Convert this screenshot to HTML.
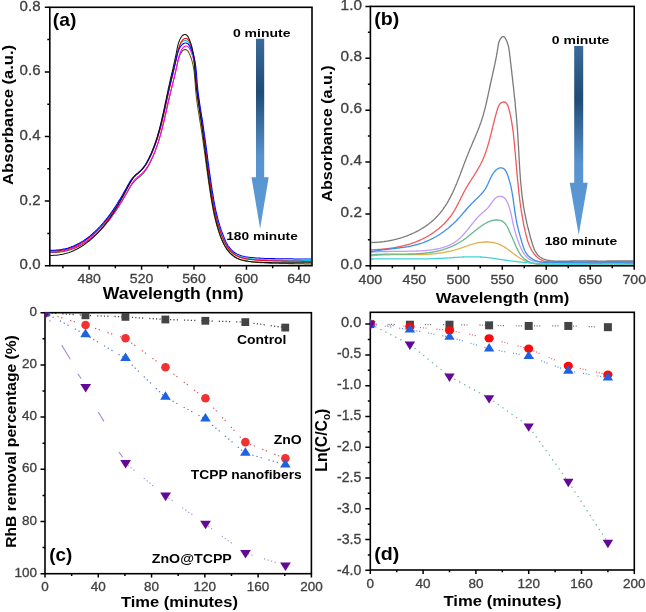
<!DOCTYPE html><html><head><meta charset="utf-8"><style>html,body{margin:0;padding:0;background:#fff;}svg{display:block;filter:blur(0.65px)}</style></head><body>
<svg width="646" height="612" viewBox="0 0 646 612">
<rect width="646" height="612" fill="#fff"/>
<defs>
<linearGradient id="ga" gradientUnits="userSpaceOnUse" x1="0" y1="38.7" x2="0" y2="228.8"><stop offset="0" stop-color="#3b6b9a"/><stop offset="0.28" stop-color="#1f4b74"/><stop offset="0.62" stop-color="#5893cf"/><stop offset="1" stop-color="#5b9bd5"/></linearGradient>
<linearGradient id="gb" gradientUnits="userSpaceOnUse" x1="0" y1="46" x2="0" y2="234.9"><stop offset="0" stop-color="#3b6b9a"/><stop offset="0.28" stop-color="#1f4b74"/><stop offset="0.62" stop-color="#5893cf"/><stop offset="1" stop-color="#5b9bd5"/></linearGradient>
<clipPath id="clipc"><rect x="45" y="312.7" width="266.4" height="261"/></clipPath><clipPath id="clipd"><rect x="370.3" y="312.3" width="264" height="257.7"/></clipPath>
</defs>
<path d="M50.2,252.5 L51.3,252.5 L52.4,252.5 L53.4,252.5 L54.5,252.5 L55.5,252.5 L56.5,252.4 L57.6,252.3 L58.6,252.2 L59.6,252.1 L60.6,252.0 L61.6,251.8 L62.6,251.7 L63.6,251.5 L64.6,251.3 L65.6,251.1 L66.5,250.9 L67.5,250.6 L68.5,250.3 L69.4,250.1 L70.3,249.8 L71.3,249.5 L72.2,249.1 L73.1,248.8 L74.1,248.4 L75.0,248.1 L75.9,247.7 L76.8,247.3 L77.6,246.9 L78.5,246.4 L79.4,246.0 L80.3,245.5 L81.1,245.1 L82.0,244.6 L82.9,244.1 L83.7,243.6 L84.5,243.1 L85.4,242.6 L86.2,242.0 L87.0,241.5 L87.8,240.9 L88.6,240.4 L89.4,239.8 L90.2,239.2 L91.0,238.6 L91.8,238.0 L92.6,237.4 L93.3,236.8 L94.1,236.1 L94.8,235.5 L95.6,234.8 L96.3,234.2 L97.0,233.5 L97.8,232.8 L98.5,232.1 L99.2,231.4 L99.9,230.7 L100.6,230.0 L101.2,229.3 L101.9,228.6 L102.6,227.9 L103.3,227.2 L103.9,226.4 L104.6,225.7 L105.2,224.9 L105.9,224.2 L106.5,223.4 L107.1,222.7 L107.7,221.9 L108.4,221.1 L109.0,220.3 L109.6,219.6 L110.2,218.8 L110.8,218.0 L111.3,217.2 L111.9,216.4 L112.5,215.6 L113.1,214.8 L113.6,214.1 L114.2,213.3 L114.7,212.4 L115.3,211.6 L115.8,210.8 L116.4,210.0 L116.9,209.2 L117.4,208.4 L118.0,207.6 L118.5,206.8 L119.0,206.0 L119.5,205.1 L120.0,204.3 L120.6,203.5 L121.1,202.7 L121.6,201.8 L122.1,201.0 L122.6,200.2 L123.1,199.3 L123.6,198.5 L124.1,197.7 L124.5,196.8 L125.0,196.0 L125.5,195.1 L126.0,194.3 L126.5,193.4 L127.0,192.6 L127.5,191.7 L128.0,190.9 L128.5,190.0 L128.9,189.2 L129.4,188.3 L129.9,187.5 L130.4,186.6 L130.9,185.8 L131.5,185.0 L132.0,184.2 L132.6,183.4 L133.2,182.6 L133.8,181.9 L134.5,181.2 L135.2,180.5 L135.9,179.8 L136.6,179.2 L137.4,178.6 L138.2,177.9 L139.0,177.3 L139.7,176.7 L140.5,176.1 L141.2,175.4 L141.9,174.7 L142.6,174.0 L143.3,173.3 L143.9,172.6 L144.5,171.8 L145.1,171.0 L145.7,170.3 L146.2,169.4 L146.8,168.6 L147.3,167.8 L147.8,167.0 L148.3,166.1 L148.7,165.3 L149.2,164.4 L149.7,163.5 L150.1,162.7 L150.5,161.8 L151.0,160.9 L151.4,160.0 L151.8,159.1 L152.2,158.2 L152.6,157.4 L153.0,156.5 L153.4,155.6 L153.7,154.7 L154.1,153.8 L154.5,152.9 L154.8,152.0 L155.2,151.1 L155.5,150.2 L155.9,149.2 L156.2,148.3 L156.5,147.4 L156.8,146.5 L157.2,145.6 L157.5,144.7 L157.8,143.7 L158.1,142.8 L158.4,141.9 L158.6,141.0 L158.9,140.0 L159.2,139.1 L159.5,138.2 L159.8,137.2 L160.0,136.3 L160.3,135.4 L160.6,134.4 L160.8,133.5 L161.1,132.5 L161.3,131.6 L161.6,130.7 L161.8,129.7 L162.0,128.8 L162.3,127.8 L162.5,126.9 L162.7,125.9 L163.0,125.0 L163.2,124.0 L163.4,123.1 L163.7,122.1 L163.9,121.2 L164.1,120.2 L164.3,119.3 L164.5,118.3 L164.8,117.4 L165.0,116.4 L165.2,115.5 L165.4,114.5 L165.6,113.6 L165.8,112.6 L166.0,111.7 L166.3,110.7 L166.5,109.7 L166.7,108.8 L166.9,107.8 L167.1,106.9 L167.3,105.9 L167.5,105.0 L167.8,104.0 L168.0,103.1 L168.2,102.1 L168.4,101.2 L168.6,100.2 L168.8,99.3 L169.1,98.3 L169.3,97.4 L169.5,96.4 L169.8,95.5 L170.0,94.6 L170.2,93.6 L170.4,92.7 L170.7,91.7 L170.9,90.8 L171.1,89.8 L171.4,88.9 L171.6,88.0 L171.8,87.0 L172.1,86.1 L172.3,85.1 L172.6,84.2 L172.8,83.2 L173.0,82.3 L173.3,81.3 L173.5,80.4 L173.7,79.5 L173.9,78.5 L174.2,77.6 L174.4,76.6 L174.6,75.7 L174.9,74.7 L175.1,73.8 L175.3,72.8 L175.5,71.9 L175.7,70.9 L175.9,70.0 L176.2,69.0 L176.4,68.1 L176.6,67.1 L176.8,66.2 L177.0,65.2 L177.2,64.3 L177.4,63.3 L177.6,62.4 L177.8,61.4 L178.0,60.4 L178.3,59.5 L178.6,58.5 L178.9,57.5 L179.3,56.5 L179.6,55.5 L180.1,54.6 L180.6,53.6 L181.1,52.7 L181.6,51.9 L182.2,51.1 L182.9,50.5 L183.5,50.1 L184.2,49.8 L184.9,49.6 L185.6,49.6 L186.3,49.8 L186.9,50.2 L187.5,50.7 L188.1,51.3 L188.6,52.1 L189.0,53.0 L189.4,53.9 L189.9,54.8 L190.2,55.7 L190.6,56.7 L190.9,57.6 L191.3,58.5 L191.6,59.5 L191.9,60.4 L192.1,61.4 L192.4,62.3 L192.6,63.3 L192.8,64.2 L193.1,65.2 L193.2,66.2 L193.4,67.1 L193.6,68.1 L193.7,69.1 L193.9,70.0 L194.0,71.0 L194.2,72.0 L194.3,72.9 L194.4,73.9 L194.5,74.9 L194.6,75.9 L194.7,76.9 L194.7,77.8 L194.8,78.8 L194.9,79.8 L195.0,80.8 L195.0,81.8 L195.1,82.7 L195.2,83.7 L195.3,84.7 L195.3,85.7 L195.4,86.7 L195.5,87.6 L195.5,88.6 L195.6,89.6 L195.7,90.6 L195.8,91.6 L195.9,92.5 L196.0,93.5 L196.1,94.5 L196.2,95.5 L196.3,96.4 L196.4,97.4 L196.6,98.4 L196.7,99.3 L196.8,100.3 L196.9,101.3 L197.1,102.2 L197.2,103.2 L197.3,104.2 L197.5,105.1 L197.6,106.1 L197.8,107.1 L197.9,108.0 L198.0,109.0 L198.2,110.0 L198.3,110.9 L198.5,111.9 L198.6,112.9 L198.8,113.8 L199.0,114.8 L199.1,115.7 L199.3,116.7 L199.4,117.7 L199.6,118.6 L199.7,119.6 L199.9,120.6 L200.0,121.5 L200.2,122.5 L200.4,123.5 L200.5,124.4 L200.7,125.4 L200.8,126.4 L201.0,127.3 L201.1,128.3 L201.3,129.3 L201.4,130.2 L201.6,131.2 L201.7,132.2 L201.9,133.1 L202.0,134.1 L202.1,135.1 L202.3,136.0 L202.4,137.0 L202.6,138.0 L202.7,138.9 L202.8,139.9 L203.0,140.9 L203.1,141.8 L203.3,142.8 L203.4,143.8 L203.5,144.8 L203.7,145.7 L203.8,146.7 L203.9,147.7 L204.1,148.6 L204.2,149.6 L204.3,150.6 L204.5,151.6 L204.6,152.5 L204.7,153.5 L204.9,154.5 L205.0,155.4 L205.1,156.4 L205.3,157.4 L205.4,158.4 L205.5,159.3 L205.7,160.3 L205.8,161.3 L205.9,162.3 L206.0,163.2 L206.2,164.2 L206.3,165.2 L206.4,166.1 L206.6,167.1 L206.7,168.1 L206.8,169.1 L207.0,170.0 L207.1,171.0 L207.2,172.0 L207.4,172.9 L207.5,173.9 L207.6,174.9 L207.8,175.8 L207.9,176.8 L208.0,177.8 L208.2,178.8 L208.3,179.7 L208.5,180.7 L208.6,181.7 L208.7,182.6 L208.9,183.6 L209.0,184.6 L209.2,185.5 L209.3,186.5 L209.4,187.5 L209.6,188.4 L209.7,189.4 L209.9,190.4 L210.0,191.3 L210.2,192.3 L210.3,193.3 L210.5,194.2 L210.6,195.2 L210.8,196.1 L210.9,197.1 L211.1,198.1 L211.2,199.0 L211.4,200.0 L211.6,200.9 L211.7,201.9 L211.9,202.9 L212.1,203.8 L212.2,204.8 L212.4,205.7 L212.6,206.7 L212.8,207.7 L212.9,208.6 L213.1,209.6 L213.3,210.5 L213.5,211.5 L213.7,212.4 L213.9,213.4 L214.1,214.4 L214.3,215.3 L214.5,216.3 L214.8,217.2 L215.0,218.2 L215.2,219.1 L215.4,220.1 L215.7,221.0 L215.9,222.0 L216.2,222.9 L216.4,223.9 L216.7,224.8 L216.9,225.8 L217.2,226.7 L217.5,227.7 L217.8,228.6 L218.1,229.6 L218.4,230.5 L218.7,231.5 L219.0,232.4 L219.3,233.4 L219.6,234.3 L220.0,235.3 L220.3,236.2 L220.7,237.2 L221.0,238.1 L221.4,239.0 L221.8,240.0 L222.2,240.9 L222.6,241.8 L223.0,242.7 L223.5,243.6 L223.9,244.5 L224.4,245.3 L224.9,246.2 L225.4,247.0 L225.9,247.8 L226.4,248.6 L226.9,249.4 L227.5,250.2 L228.1,250.9 L228.7,251.7 L229.3,252.4 L230.0,253.1 L230.6,253.7 L231.3,254.4 L232.0,255.0 L232.7,255.6 L233.5,256.2 L234.3,256.7 L235.1,257.2 L235.9,257.7 L236.7,258.2 L237.6,258.6 L238.5,259.0 L239.4,259.3 L240.4,259.7 L241.3,260.0 L242.3,260.3 L243.3,260.5 L244.3,260.7 L245.4,261.0 L246.4,261.2 L247.4,261.3 L248.5,261.5 L249.5,261.6 L250.6,261.8 L251.7,261.9 L252.7,262.0 L253.7,262.1 L254.8,262.2 L255.8,262.3 L256.8,262.4 L257.8,262.4 L258.9,262.5 L259.8,262.6 L260.8,262.6 L261.8,262.7 L262.8,262.8 L263.8,262.8 L264.7,262.9 L265.7,262.9 L266.7,262.9 L267.6,263.0 L268.6,263.0 L269.6,263.1 L270.5,263.1 L271.5,263.1 L272.5,263.2 L273.4,263.2 L274.4,263.2 L275.4,263.3 L276.4,263.3 L277.4,263.3 L278.4,263.3 L279.4,263.4 L280.4,263.4 L281.4,263.4 L282.4,263.4 L283.4,263.5 L284.4,263.5 L285.4,263.5 L286.4,263.5 L287.4,263.5 L288.5,263.6 L289.5,263.6 L290.5,263.6 L291.5,263.6 L292.5,263.6 L293.5,263.6 L294.6,263.7 L295.6,263.7 L296.6,263.7 L297.6,263.7 L298.6,263.7 L299.6,263.8 L300.6,263.8 L301.6,263.8 L302.6,263.8 L303.6,263.8 L304.6,263.9 L305.6,263.9 L306.6,263.9 L307.5,263.9 L308.5,263.9 L309.5,264.0 L310.4,264.0 L311.4,264.0" fill="none" stroke="#555500" stroke-width="1.05" stroke-linejoin="round"/>
<path d="M50.2,251.9 L51.3,251.9 L52.4,251.9 L53.4,251.9 L54.5,251.9 L55.5,251.8 L56.6,251.7 L57.6,251.7 L58.6,251.5 L59.7,251.4 L60.7,251.3 L61.7,251.1 L62.7,251.0 L63.7,250.8 L64.7,250.5 L65.7,250.3 L66.6,250.1 L67.6,249.8 L68.6,249.5 L69.6,249.3 L70.5,248.9 L71.5,248.6 L72.4,248.3 L73.3,247.9 L74.3,247.6 L75.2,247.2 L76.1,246.8 L77.0,246.4 L77.9,246.0 L78.8,245.5 L79.7,245.1 L80.6,244.6 L81.5,244.1 L82.4,243.6 L83.3,243.1 L84.1,242.6 L85.0,242.1 L85.8,241.6 L86.7,241.0 L87.5,240.5 L88.4,239.9 L89.2,239.3 L90.0,238.7 L90.8,238.1 L91.7,237.5 L92.5,236.9 L93.3,236.3 L94.1,235.6 L94.9,235.0 L95.6,234.3 L96.4,233.6 L97.1,233.0 L97.8,232.3 L98.6,231.6 L99.3,230.9 L100.0,230.2 L100.7,229.5 L101.4,228.8 L102.0,228.0 L102.7,227.3 L103.4,226.6 L104.1,225.8 L104.7,225.1 L105.4,224.3 L106.0,223.6 L106.7,222.8 L107.3,222.0 L107.9,221.3 L108.5,220.5 L109.2,219.7 L109.8,218.9 L110.4,218.1 L111.0,217.3 L111.6,216.5 L112.1,215.7 L112.7,214.9 L113.3,214.1 L113.9,213.3 L114.4,212.5 L115.0,211.7 L115.5,210.9 L116.1,210.1 L116.6,209.3 L117.2,208.4 L117.7,207.6 L118.2,206.8 L118.8,206.0 L119.3,205.1 L119.8,204.3 L120.3,203.5 L120.8,202.6 L121.4,201.8 L121.9,201.0 L122.4,200.1 L122.9,199.3 L123.4,198.4 L123.9,197.6 L124.4,196.7 L124.9,195.9 L125.3,195.0 L125.8,194.2 L126.3,193.3 L126.8,192.5 L127.3,191.6 L127.8,190.8 L128.3,189.9 L128.8,189.0 L129.3,188.2 L129.7,187.3 L130.2,186.4 L130.7,185.6 L131.2,184.7 L131.7,183.9 L132.3,183.0 L132.8,182.2 L133.4,181.4 L134.0,180.7 L134.6,179.9 L135.3,179.2 L136.0,178.5 L136.7,177.8 L137.4,177.1 L138.2,176.5 L139.0,175.9 L139.8,175.2 L140.5,174.6 L141.3,174.0 L142.0,173.3 L142.7,172.6 L143.4,171.9 L144.1,171.2 L144.7,170.4 L145.3,169.6 L145.9,168.9 L146.5,168.1 L147.0,167.2 L147.6,166.4 L148.1,165.6 L148.6,164.7 L149.1,163.9 L149.5,163.0 L150.0,162.1 L150.5,161.2 L150.9,160.3 L151.3,159.5 L151.8,158.6 L152.2,157.7 L152.6,156.8 L153.0,155.9 L153.4,155.0 L153.8,154.1 L154.2,153.2 L154.5,152.3 L154.9,151.4 L155.3,150.4 L155.6,149.5 L156.0,148.6 L156.3,147.7 L156.7,146.8 L157.0,145.8 L157.3,144.9 L157.6,144.0 L158.0,143.1 L158.3,142.1 L158.6,141.2 L158.9,140.3 L159.2,139.3 L159.4,138.4 L159.7,137.4 L160.0,136.5 L160.3,135.6 L160.6,134.6 L160.8,133.7 L161.1,132.7 L161.4,131.8 L161.6,130.8 L161.9,129.9 L162.1,128.9 L162.4,128.0 L162.6,127.0 L162.8,126.1 L163.1,125.1 L163.3,124.1 L163.5,123.2 L163.8,122.2 L164.0,121.3 L164.2,120.3 L164.5,119.4 L164.7,118.4 L164.9,117.4 L165.1,116.5 L165.3,115.5 L165.6,114.5 L165.8,113.6 L166.0,112.6 L166.2,111.7 L166.4,110.7 L166.6,109.7 L166.8,108.8 L167.1,107.8 L167.3,106.8 L167.5,105.9 L167.7,104.9 L167.9,104.0 L168.1,103.0 L168.3,102.0 L168.6,101.1 L168.8,100.1 L169.0,99.1 L169.2,98.2 L169.4,97.2 L169.6,96.3 L169.9,95.3 L170.1,94.4 L170.3,93.4 L170.6,92.4 L170.8,91.5 L171.0,90.5 L171.2,89.6 L171.5,88.6 L171.7,87.7 L171.9,86.7 L172.2,85.8 L172.4,84.8 L172.6,83.9 L172.9,82.9 L173.1,82.0 L173.4,81.0 L173.6,80.0 L173.8,79.1 L174.1,78.1 L174.3,77.2 L174.5,76.2 L174.7,75.3 L175.0,74.3 L175.2,73.4 L175.4,72.4 L175.7,71.5 L175.9,70.5 L176.1,69.5 L176.3,68.6 L176.5,67.6 L176.7,66.7 L177.0,65.7 L177.2,64.7 L177.4,63.8 L177.6,62.8 L177.8,61.9 L178.0,60.9 L178.2,59.9 L178.4,59.0 L178.6,58.0 L178.9,57.0 L179.1,56.0 L179.4,55.0 L179.7,54.0 L180.1,53.1 L180.5,52.0 L180.9,51.0 L181.4,50.1 L181.9,49.2 L182.5,48.3 L183.1,47.6 L183.7,47.0 L184.4,46.5 L185.1,46.2 L185.8,46.0 L186.5,46.0 L187.2,46.2 L187.8,46.6 L188.4,47.1 L189.0,47.7 L189.5,48.5 L190.0,49.4 L190.4,50.3 L190.8,51.2 L191.2,52.1 L191.6,53.1 L191.9,54.0 L192.2,55.0 L192.5,55.9 L192.8,56.9 L193.1,57.8 L193.4,58.8 L193.6,59.7 L193.8,60.7 L194.0,61.7 L194.2,62.6 L194.4,63.6 L194.6,64.6 L194.7,65.5 L194.9,66.5 L195.0,67.5 L195.1,68.5 L195.3,69.5 L195.4,70.4 L195.5,71.4 L195.6,72.4 L195.7,73.4 L195.7,74.4 L195.8,75.4 L195.9,76.4 L196.0,77.4 L196.0,78.3 L196.1,79.3 L196.2,80.3 L196.3,81.3 L196.3,82.3 L196.4,83.3 L196.5,84.3 L196.5,85.3 L196.6,86.2 L196.7,87.2 L196.8,88.2 L196.9,89.2 L197.0,90.2 L197.1,91.2 L197.2,92.1 L197.3,93.1 L197.4,94.1 L197.6,95.1 L197.7,96.0 L197.8,97.0 L197.9,98.0 L198.1,99.0 L198.2,99.9 L198.3,100.9 L198.5,101.9 L198.6,102.9 L198.8,103.8 L198.9,104.8 L199.0,105.8 L199.2,106.8 L199.3,107.7 L199.5,108.7 L199.6,109.7 L199.8,110.6 L200.0,111.6 L200.1,112.6 L200.3,113.5 L200.4,114.5 L200.6,115.5 L200.7,116.5 L200.9,117.4 L201.0,118.4 L201.2,119.4 L201.4,120.3 L201.5,121.3 L201.7,122.3 L201.8,123.3 L202.0,124.2 L202.1,125.2 L202.3,126.2 L202.4,127.2 L202.6,128.1 L202.7,129.1 L202.9,130.1 L203.0,131.0 L203.1,132.0 L203.3,133.0 L203.4,134.0 L203.6,135.0 L203.7,135.9 L203.8,136.9 L204.0,137.9 L204.1,138.9 L204.3,139.8 L204.4,140.8 L204.5,141.8 L204.7,142.8 L204.8,143.7 L204.9,144.7 L205.1,145.7 L205.2,146.7 L205.3,147.7 L205.5,148.6 L205.6,149.6 L205.7,150.6 L205.9,151.6 L206.0,152.6 L206.1,153.5 L206.3,154.5 L206.4,155.5 L206.5,156.5 L206.7,157.4 L206.8,158.4 L206.9,159.4 L207.0,160.4 L207.2,161.4 L207.3,162.3 L207.4,163.3 L207.6,164.3 L207.7,165.3 L207.8,166.3 L208.0,167.2 L208.1,168.2 L208.2,169.2 L208.4,170.2 L208.5,171.1 L208.6,172.1 L208.8,173.1 L208.9,174.1 L209.0,175.1 L209.2,176.0 L209.3,177.0 L209.5,178.0 L209.6,179.0 L209.7,179.9 L209.9,180.9 L210.0,181.9 L210.2,182.9 L210.3,183.8 L210.4,184.8 L210.6,185.8 L210.7,186.7 L210.9,187.7 L211.0,188.7 L211.2,189.7 L211.3,190.6 L211.5,191.6 L211.6,192.6 L211.8,193.5 L211.9,194.5 L212.1,195.5 L212.2,196.4 L212.4,197.4 L212.6,198.4 L212.7,199.3 L212.9,200.3 L213.1,201.3 L213.2,202.2 L213.4,203.2 L213.6,204.2 L213.8,205.1 L213.9,206.1 L214.1,207.1 L214.3,208.0 L214.5,209.0 L214.7,209.9 L214.9,210.9 L215.1,211.9 L215.3,212.8 L215.5,213.8 L215.8,214.7 L216.0,215.7 L216.2,216.7 L216.4,217.6 L216.7,218.6 L216.9,219.5 L217.2,220.5 L217.4,221.5 L217.7,222.4 L217.9,223.4 L218.2,224.3 L218.5,225.3 L218.8,226.2 L219.1,227.2 L219.4,228.2 L219.7,229.1 L220.0,230.1 L220.3,231.0 L220.6,232.0 L221.0,232.9 L221.3,233.9 L221.7,234.8 L222.0,235.8 L222.4,236.7 L222.8,237.6 L223.2,238.5 L223.5,239.5 L223.9,240.4 L224.3,241.3 L224.7,242.1 L225.1,243.0 L225.6,243.9 L226.0,244.7 L226.5,245.5 L227.0,246.3 L227.5,247.1 L228.0,247.9 L228.6,248.6 L229.1,249.4 L229.7,250.1 L230.3,250.8 L231.0,251.4 L231.6,252.1 L232.3,252.7 L233.0,253.3 L233.7,253.9 L234.5,254.4 L235.2,254.9 L236.0,255.4 L236.9,255.8 L237.7,256.2 L238.6,256.6 L239.5,257.0 L240.4,257.3 L241.4,257.6 L242.4,257.9 L243.4,258.1 L244.4,258.4 L245.4,258.6 L246.4,258.8 L247.4,258.9 L248.5,259.1 L249.5,259.2 L250.6,259.3 L251.7,259.4 L252.7,259.5 L253.7,259.6 L254.8,259.7 L255.8,259.8 L256.8,259.9 L257.8,259.9 L258.9,260.0 L259.8,260.1 L260.8,260.1 L261.8,260.2 L262.8,260.2 L263.8,260.3 L264.7,260.3 L265.7,260.3 L266.7,260.4 L267.6,260.4 L268.6,260.4 L269.6,260.5 L270.5,260.5 L271.5,260.5 L272.5,260.5 L273.4,260.6 L274.4,260.6 L275.4,260.6 L276.4,260.6 L277.4,260.6 L278.4,260.7 L279.4,260.7 L280.4,260.7 L281.4,260.7 L282.4,260.7 L283.4,260.7 L284.4,260.7 L285.4,260.7 L286.4,260.8 L287.4,260.8 L288.5,260.8 L289.5,260.8 L290.5,260.8 L291.5,260.8 L292.5,260.8 L293.5,260.8 L294.6,260.8 L295.6,260.8 L296.6,260.8 L297.6,260.9 L298.6,260.9 L299.6,260.9 L300.6,260.9 L301.6,260.9 L302.6,260.9 L303.6,260.9 L304.6,260.9 L305.6,260.9 L306.6,260.9 L307.5,261.0 L308.5,261.0 L309.5,261.0 L310.4,261.0 L311.4,261.0" fill="none" stroke="#ff00ff" stroke-width="1.05" stroke-linejoin="round"/>
<path d="M50.2,250.6 L51.3,250.7 L52.4,250.7 L53.4,250.7 L54.5,250.7 L55.5,250.6 L56.5,250.5 L57.6,250.5 L58.6,250.3 L59.6,250.2 L60.6,250.1 L61.6,249.9 L62.6,249.7 L63.6,249.6 L64.5,249.3 L65.5,249.1 L66.5,248.9 L67.4,248.6 L68.4,248.3 L69.3,248.0 L70.3,247.7 L71.2,247.4 L72.1,247.0 L73.0,246.7 L73.9,246.3 L74.8,245.9 L75.7,245.5 L76.6,245.1 L77.5,244.7 L78.4,244.2 L79.2,243.8 L80.1,243.3 L81.0,242.8 L81.8,242.3 L82.6,241.8 L83.5,241.3 L84.3,240.7 L85.1,240.2 L85.9,239.6 L86.7,239.1 L87.5,238.5 L88.3,237.9 L89.1,237.3 L89.9,236.7 L90.7,236.1 L91.4,235.4 L92.2,234.8 L93.0,234.1 L93.7,233.5 L94.5,232.8 L95.2,232.1 L95.9,231.4 L96.6,230.7 L97.4,230.0 L98.1,229.3 L98.8,228.6 L99.5,227.9 L100.2,227.1 L100.8,226.4 L101.5,225.7 L102.2,224.9 L102.9,224.1 L103.5,223.4 L104.2,222.6 L104.8,221.8 L105.5,221.1 L106.1,220.3 L106.7,219.5 L107.3,218.7 L108.0,217.9 L108.6,217.1 L109.2,216.3 L109.8,215.5 L110.4,214.7 L110.9,213.8 L111.5,213.0 L112.1,212.2 L112.7,211.4 L113.2,210.6 L113.8,209.7 L114.3,208.9 L114.9,208.1 L115.4,207.2 L116.0,206.4 L116.5,205.5 L117.0,204.7 L117.6,203.9 L118.1,203.0 L118.6,202.2 L119.1,201.3 L119.6,200.5 L120.2,199.6 L120.7,198.7 L121.2,197.9 L121.7,197.0 L122.2,196.2 L122.7,195.3 L123.2,194.4 L123.7,193.6 L124.1,192.7 L124.6,191.8 L125.1,190.9 L125.6,190.1 L126.1,189.2 L126.6,188.3 L127.1,187.4 L127.6,186.6 L128.1,185.7 L128.5,184.8 L129.0,183.9 L129.5,183.0 L130.0,182.2 L130.5,181.3 L131.1,180.4 L131.6,179.6 L132.2,178.8 L132.8,178.0 L133.4,177.2 L134.1,176.5 L134.8,175.8 L135.5,175.1 L136.2,174.4 L137.0,173.8 L137.8,173.1 L138.6,172.5 L139.3,171.8 L140.1,171.2 L140.8,170.5 L141.5,169.8 L142.2,169.1 L142.9,168.3 L143.5,167.5 L144.1,166.8 L144.7,166.0 L145.3,165.1 L145.8,164.3 L146.4,163.5 L146.9,162.6 L147.4,161.7 L147.9,160.8 L148.3,160.0 L148.8,159.1 L149.3,158.2 L149.7,157.3 L150.1,156.4 L150.6,155.5 L151.0,154.5 L151.4,153.6 L151.8,152.7 L152.2,151.8 L152.6,150.9 L153.0,149.9 L153.3,149.0 L153.7,148.1 L154.1,147.2 L154.4,146.2 L154.8,145.3 L155.1,144.3 L155.5,143.4 L155.8,142.5 L156.1,141.5 L156.4,140.6 L156.8,139.6 L157.1,138.7 L157.4,137.7 L157.7,136.7 L158.0,135.8 L158.2,134.8 L158.5,133.9 L158.8,132.9 L159.1,131.9 L159.4,131.0 L159.6,130.0 L159.9,129.0 L160.2,128.1 L160.4,127.1 L160.7,126.1 L160.9,125.2 L161.2,124.2 L161.4,123.2 L161.6,122.2 L161.9,121.3 L162.1,120.3 L162.3,119.3 L162.6,118.3 L162.8,117.3 L163.0,116.4 L163.3,115.4 L163.5,114.4 L163.7,113.4 L163.9,112.4 L164.1,111.5 L164.4,110.5 L164.6,109.5 L164.8,108.5 L165.0,107.5 L165.2,106.5 L165.4,105.5 L165.6,104.6 L165.9,103.6 L166.1,102.6 L166.3,101.6 L166.5,100.6 L166.7,99.6 L166.9,98.7 L167.1,97.7 L167.4,96.7 L167.6,95.7 L167.8,94.7 L168.0,93.7 L168.2,92.8 L168.4,91.8 L168.7,90.8 L168.9,89.8 L169.1,88.9 L169.4,87.9 L169.6,86.9 L169.8,85.9 L170.0,84.9 L170.3,84.0 L170.5,83.0 L170.7,82.0 L171.0,81.1 L171.2,80.1 L171.4,79.1 L171.7,78.1 L171.9,77.2 L172.2,76.2 L172.4,75.2 L172.6,74.2 L172.9,73.3 L173.1,72.3 L173.3,71.3 L173.5,70.3 L173.8,69.4 L174.0,68.4 L174.2,67.4 L174.5,66.4 L174.7,65.4 L174.9,64.5 L175.1,63.5 L175.3,62.5 L175.6,61.5 L175.8,60.5 L176.0,59.6 L176.2,58.6 L176.4,57.6 L176.6,56.6 L176.8,55.6 L177.0,54.6 L177.3,53.6 L177.5,52.7 L177.7,51.7 L178.0,50.7 L178.3,49.6 L178.6,48.6 L179.0,47.6 L179.4,46.6 L179.8,45.6 L180.3,44.6 L180.9,43.6 L181.4,42.8 L182.1,42.0 L182.7,41.4 L183.4,40.9 L184.2,40.6 L184.9,40.5 L185.6,40.5 L186.3,40.6 L186.9,41.0 L187.5,41.5 L188.1,42.2 L188.6,43.0 L189.1,43.9 L189.5,44.8 L190.0,45.8 L190.4,46.7 L190.7,47.7 L191.1,48.6 L191.4,49.6 L191.8,50.6 L192.1,51.5 L192.3,52.5 L192.6,53.5 L192.8,54.5 L193.1,55.5 L193.3,56.4 L193.5,57.4 L193.7,58.4 L193.8,59.4 L194.0,60.4 L194.2,61.4 L194.3,62.4 L194.4,63.4 L194.5,64.4 L194.7,65.4 L194.8,66.4 L194.9,67.4 L194.9,68.5 L195.0,69.5 L195.1,70.5 L195.2,71.5 L195.3,72.5 L195.3,73.5 L195.4,74.5 L195.5,75.5 L195.6,76.5 L195.6,77.5 L195.7,78.6 L195.8,79.6 L195.8,80.6 L195.9,81.6 L196.0,82.6 L196.1,83.6 L196.2,84.6 L196.3,85.6 L196.4,86.6 L196.5,87.6 L196.6,88.6 L196.7,89.6 L196.9,90.6 L197.0,91.6 L197.1,92.6 L197.2,93.6 L197.4,94.6 L197.5,95.6 L197.6,96.6 L197.8,97.6 L197.9,98.6 L198.1,99.6 L198.2,100.6 L198.3,101.6 L198.5,102.6 L198.6,103.6 L198.8,104.6 L198.9,105.5 L199.1,106.5 L199.3,107.5 L199.4,108.5 L199.6,109.5 L199.7,110.5 L199.9,111.5 L200.0,112.5 L200.2,113.5 L200.3,114.5 L200.5,115.5 L200.7,116.5 L200.8,117.5 L201.0,118.5 L201.1,119.4 L201.3,120.4 L201.4,121.4 L201.6,122.4 L201.7,123.4 L201.9,124.4 L202.0,125.4 L202.2,126.4 L202.3,127.4 L202.4,128.4 L202.6,129.4 L202.7,130.4 L202.9,131.4 L203.0,132.4 L203.1,133.4 L203.3,134.4 L203.4,135.4 L203.6,136.4 L203.7,137.4 L203.8,138.4 L204.0,139.4 L204.1,140.4 L204.2,141.4 L204.4,142.4 L204.5,143.4 L204.6,144.4 L204.8,145.4 L204.9,146.4 L205.0,147.4 L205.2,148.4 L205.3,149.4 L205.4,150.4 L205.6,151.4 L205.7,152.4 L205.8,153.4 L206.0,154.4 L206.1,155.4 L206.2,156.4 L206.3,157.4 L206.5,158.4 L206.6,159.4 L206.7,160.4 L206.9,161.4 L207.0,162.4 L207.1,163.4 L207.3,164.4 L207.4,165.4 L207.5,166.4 L207.7,167.4 L207.8,168.4 L207.9,169.4 L208.1,170.4 L208.2,171.4 L208.3,172.4 L208.5,173.4 L208.6,174.4 L208.8,175.4 L208.9,176.4 L209.0,177.4 L209.2,178.4 L209.3,179.4 L209.5,180.4 L209.6,181.4 L209.7,182.4 L209.9,183.4 L210.0,184.4 L210.2,185.4 L210.3,186.4 L210.5,187.4 L210.6,188.3 L210.8,189.3 L210.9,190.3 L211.1,191.3 L211.2,192.3 L211.4,193.3 L211.5,194.3 L211.7,195.3 L211.9,196.3 L212.0,197.3 L212.2,198.2 L212.4,199.2 L212.5,200.2 L212.7,201.2 L212.9,202.2 L213.1,203.2 L213.2,204.2 L213.4,205.2 L213.6,206.1 L213.8,207.1 L214.0,208.1 L214.2,209.1 L214.4,210.1 L214.6,211.1 L214.8,212.0 L215.1,213.0 L215.3,214.0 L215.5,215.0 L215.7,216.0 L216.0,216.9 L216.2,217.9 L216.5,218.9 L216.7,219.9 L217.0,220.9 L217.2,221.8 L217.5,222.8 L217.8,223.8 L218.1,224.8 L218.4,225.8 L218.7,226.7 L219.0,227.7 L219.3,228.7 L219.6,229.7 L219.9,230.6 L220.3,231.6 L220.6,232.6 L221.0,233.6 L221.3,234.5 L221.7,235.5 L222.1,236.4 L222.5,237.4 L222.9,238.3 L223.3,239.2 L223.7,240.1 L224.2,241.0 L224.6,241.9 L225.1,242.8 L225.6,243.7 L226.1,244.5 L226.6,245.3 L227.1,246.1 L227.7,246.9 L228.2,247.7 L228.8,248.4 L229.4,249.2 L230.1,249.9 L230.7,250.6 L231.4,251.2 L232.1,251.9 L232.8,252.5 L233.6,253.0 L234.3,253.6 L235.1,254.1 L235.9,254.6 L236.8,255.1 L237.6,255.5 L238.5,255.9 L239.5,256.3 L240.4,256.6 L241.4,256.9 L242.3,257.2 L243.3,257.4 L244.3,257.7 L245.4,257.9 L246.4,258.1 L247.4,258.3 L248.5,258.4 L249.5,258.5 L250.6,258.7 L251.7,258.8 L252.7,258.9 L253.7,259.0 L254.8,259.1 L255.8,259.2 L256.8,259.2 L257.8,259.3 L258.9,259.4 L259.8,259.4 L260.8,259.5 L261.8,259.5 L262.8,259.6 L263.8,259.6 L264.7,259.7 L265.7,259.7 L266.7,259.8 L267.6,259.8 L268.6,259.8 L269.6,259.9 L270.5,259.9 L271.5,259.9 L272.5,260.0 L273.4,260.0 L274.4,260.0 L275.4,260.0 L276.4,260.0 L277.4,260.1 L278.4,260.1 L279.4,260.1 L280.4,260.1 L281.4,260.1 L282.4,260.1 L283.4,260.2 L284.4,260.2 L285.4,260.2 L286.4,260.2 L287.4,260.2 L288.5,260.2 L289.5,260.2 L290.5,260.3 L291.5,260.3 L292.5,260.3 L293.5,260.3 L294.6,260.3 L295.6,260.3 L296.6,260.3 L297.6,260.3 L298.6,260.3 L299.6,260.3 L300.6,260.4 L301.6,260.4 L302.6,260.4 L303.6,260.4 L304.6,260.4 L305.6,260.4 L306.6,260.4 L307.5,260.4 L308.5,260.5 L309.5,260.5 L310.4,260.5 L311.4,260.5" fill="none" stroke="#00c8c8" stroke-width="1.05" stroke-linejoin="round"/>
<path d="M50.2,250.9 L51.3,251.0 L52.4,251.0 L53.4,251.0 L54.5,251.0 L55.5,250.9 L56.6,250.8 L57.6,250.8 L58.6,250.7 L59.6,250.5 L60.6,250.4 L61.6,250.2 L62.6,250.1 L63.6,249.9 L64.6,249.7 L65.6,249.4 L66.6,249.2 L67.5,248.9 L68.5,248.6 L69.4,248.3 L70.4,248.0 L71.3,247.7 L72.3,247.3 L73.2,247.0 L74.1,246.6 L75.0,246.2 L75.9,245.8 L76.8,245.4 L77.7,244.9 L78.6,244.5 L79.5,244.0 L80.4,243.6 L81.2,243.1 L82.1,242.6 L83.0,242.1 L83.8,241.5 L84.6,241.0 L85.5,240.4 L86.3,239.9 L87.1,239.3 L88.0,238.7 L88.8,238.1 L89.6,237.5 L90.4,236.9 L91.2,236.3 L92.0,235.6 L92.7,235.0 L93.5,234.3 L94.3,233.6 L95.0,233.0 L95.8,232.3 L96.5,231.6 L97.2,230.9 L98.0,230.2 L98.7,229.5 L99.4,228.7 L100.1,228.0 L100.8,227.3 L101.4,226.5 L102.1,225.8 L102.8,225.0 L103.5,224.2 L104.1,223.5 L104.8,222.7 L105.4,221.9 L106.1,221.1 L106.7,220.3 L107.3,219.5 L107.9,218.7 L108.6,217.9 L109.2,217.1 L109.8,216.3 L110.4,215.5 L111.0,214.6 L111.5,213.8 L112.1,213.0 L112.7,212.2 L113.3,211.3 L113.8,210.5 L114.4,209.7 L114.9,208.8 L115.5,208.0 L116.0,207.1 L116.6,206.3 L117.1,205.4 L117.6,204.6 L118.2,203.7 L118.7,202.9 L119.2,202.0 L119.7,201.2 L120.2,200.3 L120.8,199.4 L121.3,198.6 L121.8,197.7 L122.3,196.8 L122.8,195.9 L123.3,195.1 L123.8,194.2 L124.3,193.3 L124.7,192.4 L125.2,191.6 L125.7,190.7 L126.2,189.8 L126.7,188.9 L127.2,188.0 L127.7,187.1 L128.2,186.2 L128.7,185.3 L129.1,184.5 L129.6,183.6 L130.1,182.7 L130.6,181.8 L131.1,180.9 L131.7,180.1 L132.2,179.2 L132.8,178.4 L133.4,177.6 L134.0,176.8 L134.7,176.1 L135.4,175.3 L136.1,174.6 L136.8,174.0 L137.6,173.3 L138.4,172.7 L139.2,172.0 L139.9,171.4 L140.7,170.7 L141.4,170.0 L142.1,169.3 L142.8,168.6 L143.5,167.8 L144.1,167.0 L144.7,166.2 L145.3,165.4 L145.9,164.6 L146.4,163.8 L147.0,162.9 L147.5,162.0 L148.0,161.1 L148.5,160.3 L148.9,159.4 L149.4,158.5 L149.9,157.5 L150.3,156.6 L150.7,155.7 L151.2,154.8 L151.6,153.9 L152.0,153.0 L152.4,152.0 L152.8,151.1 L153.2,150.2 L153.6,149.2 L153.9,148.3 L154.3,147.3 L154.7,146.4 L155.0,145.5 L155.4,144.5 L155.7,143.6 L156.1,142.6 L156.4,141.7 L156.7,140.7 L157.0,139.7 L157.4,138.8 L157.7,137.8 L158.0,136.8 L158.3,135.9 L158.6,134.9 L158.8,133.9 L159.1,133.0 L159.4,132.0 L159.7,131.0 L160.0,130.0 L160.2,129.1 L160.5,128.1 L160.8,127.1 L161.0,126.1 L161.3,125.1 L161.5,124.2 L161.8,123.2 L162.0,122.2 L162.2,121.2 L162.5,120.2 L162.7,119.2 L162.9,118.2 L163.2,117.2 L163.4,116.3 L163.6,115.3 L163.9,114.3 L164.1,113.3 L164.3,112.3 L164.5,111.3 L164.7,110.3 L165.0,109.3 L165.2,108.3 L165.4,107.3 L165.6,106.3 L165.8,105.3 L166.0,104.3 L166.2,103.3 L166.5,102.3 L166.7,101.3 L166.9,100.3 L167.1,99.3 L167.3,98.3 L167.5,97.3 L167.7,96.3 L168.0,95.4 L168.2,94.4 L168.4,93.4 L168.6,92.4 L168.8,91.4 L169.0,90.4 L169.3,89.4 L169.5,88.4 L169.7,87.4 L170.0,86.4 L170.2,85.4 L170.4,84.5 L170.6,83.5 L170.9,82.5 L171.1,81.5 L171.3,80.5 L171.6,79.5 L171.8,78.5 L172.0,77.6 L172.3,76.6 L172.5,75.6 L172.8,74.6 L173.0,73.6 L173.2,72.6 L173.5,71.6 L173.7,70.7 L173.9,69.7 L174.1,68.7 L174.4,67.7 L174.6,66.7 L174.8,65.7 L175.1,64.7 L175.3,63.7 L175.5,62.8 L175.7,61.8 L175.9,60.8 L176.2,59.8 L176.4,58.8 L176.6,57.8 L176.8,56.8 L177.0,55.8 L177.2,54.8 L177.4,53.8 L177.6,52.8 L177.8,51.8 L178.0,50.8 L178.3,49.8 L178.6,48.8 L178.9,47.8 L179.2,46.7 L179.5,45.7 L179.9,44.7 L180.4,43.6 L180.9,42.6 L181.4,41.7 L182.0,40.8 L182.6,40.1 L183.2,39.4 L183.9,39.0 L184.6,38.6 L185.3,38.5 L186.0,38.5 L186.7,38.6 L187.4,39.0 L188.0,39.5 L188.5,40.2 L189.0,41.0 L189.5,41.9 L189.9,42.9 L190.3,43.8 L190.7,44.8 L191.1,45.8 L191.5,46.8 L191.8,47.7 L192.1,48.7 L192.4,49.7 L192.7,50.7 L192.9,51.7 L193.2,52.7 L193.4,53.7 L193.6,54.7 L193.8,55.7 L194.0,56.7 L194.2,57.7 L194.3,58.7 L194.5,59.7 L194.6,60.7 L194.7,61.7 L194.9,62.8 L195.0,63.8 L195.1,64.8 L195.2,65.8 L195.3,66.8 L195.3,67.9 L195.4,68.9 L195.5,69.9 L195.6,70.9 L195.6,71.9 L195.7,73.0 L195.8,74.0 L195.9,75.0 L195.9,76.0 L196.0,77.1 L196.1,78.1 L196.1,79.1 L196.2,80.1 L196.3,81.1 L196.4,82.2 L196.5,83.2 L196.6,84.2 L196.7,85.2 L196.8,86.2 L196.9,87.2 L197.0,88.3 L197.2,89.3 L197.3,90.3 L197.4,91.3 L197.5,92.3 L197.7,93.3 L197.8,94.3 L197.9,95.3 L198.1,96.3 L198.2,97.3 L198.4,98.3 L198.5,99.4 L198.6,100.4 L198.8,101.4 L198.9,102.4 L199.1,103.4 L199.2,104.4 L199.4,105.4 L199.6,106.4 L199.7,107.4 L199.9,108.4 L200.0,109.4 L200.2,110.4 L200.3,111.4 L200.5,112.4 L200.6,113.4 L200.8,114.4 L201.0,115.4 L201.1,116.4 L201.3,117.5 L201.4,118.5 L201.6,119.5 L201.7,120.5 L201.9,121.5 L202.0,122.5 L202.2,123.5 L202.3,124.5 L202.5,125.5 L202.6,126.5 L202.7,127.5 L202.9,128.6 L203.0,129.6 L203.2,130.6 L203.3,131.6 L203.4,132.6 L203.6,133.6 L203.7,134.6 L203.9,135.6 L204.0,136.6 L204.1,137.7 L204.3,138.7 L204.4,139.7 L204.5,140.7 L204.7,141.7 L204.8,142.7 L204.9,143.7 L205.1,144.7 L205.2,145.8 L205.3,146.8 L205.5,147.8 L205.6,148.8 L205.7,149.8 L205.9,150.8 L206.0,151.8 L206.1,152.9 L206.3,153.9 L206.4,154.9 L206.5,155.9 L206.6,156.9 L206.8,157.9 L206.9,158.9 L207.0,160.0 L207.2,161.0 L207.3,162.0 L207.4,163.0 L207.6,164.0 L207.7,165.0 L207.8,166.0 L208.0,167.0 L208.1,168.1 L208.2,169.1 L208.4,170.1 L208.5,171.1 L208.6,172.1 L208.8,173.1 L208.9,174.1 L209.1,175.1 L209.2,176.1 L209.3,177.2 L209.5,178.2 L209.6,179.2 L209.8,180.2 L209.9,181.2 L210.0,182.2 L210.2,183.2 L210.3,184.2 L210.5,185.2 L210.6,186.2 L210.8,187.2 L210.9,188.2 L211.1,189.2 L211.2,190.2 L211.4,191.2 L211.5,192.3 L211.7,193.3 L211.8,194.3 L212.0,195.3 L212.2,196.3 L212.3,197.3 L212.5,198.3 L212.7,199.3 L212.8,200.3 L213.0,201.3 L213.2,202.3 L213.4,203.3 L213.5,204.3 L213.7,205.3 L213.9,206.2 L214.1,207.2 L214.3,208.2 L214.5,209.2 L214.7,210.2 L214.9,211.2 L215.1,212.2 L215.4,213.2 L215.6,214.2 L215.8,215.2 L216.0,216.2 L216.3,217.2 L216.5,218.2 L216.8,219.2 L217.0,220.2 L217.3,221.2 L217.5,222.2 L217.8,223.1 L218.1,224.1 L218.4,225.1 L218.7,226.1 L219.0,227.1 L219.3,228.1 L219.6,229.1 L219.9,230.1 L220.2,231.1 L220.6,232.1 L220.9,233.0 L221.3,234.0 L221.6,235.0 L222.0,236.0 L222.4,236.9 L222.8,237.9 L223.2,238.8 L223.6,239.8 L224.0,240.7 L224.4,241.6 L224.8,242.5 L225.3,243.4 L225.8,244.3 L226.2,245.1 L226.8,245.9 L227.3,246.8 L227.8,247.6 L228.4,248.4 L229.0,249.1 L229.6,249.9 L230.2,250.6 L230.8,251.3 L231.5,251.9 L232.2,252.6 L232.9,253.2 L233.6,253.8 L234.4,254.3 L235.2,254.9 L236.0,255.4 L236.8,255.8 L237.7,256.3 L238.6,256.7 L239.5,257.0 L240.4,257.4 L241.4,257.7 L242.4,258.0 L243.3,258.3 L244.4,258.5 L245.4,258.7 L246.4,258.9 L247.4,259.1 L248.5,259.2 L249.5,259.4 L250.6,259.5 L251.7,259.6 L252.7,259.7 L253.7,259.8 L254.8,259.9 L255.8,260.0 L256.8,260.1 L257.8,260.2 L258.9,260.2 L259.8,260.3 L260.8,260.4 L261.8,260.4 L262.8,260.5 L263.8,260.5 L264.7,260.6 L265.7,260.6 L266.7,260.7 L267.6,260.7 L268.6,260.7 L269.6,260.8 L270.5,260.8 L271.5,260.8 L272.5,260.9 L273.4,260.9 L274.4,260.9 L275.4,260.9 L276.4,261.0 L277.4,261.0 L278.4,261.0 L279.4,261.0 L280.4,261.0 L281.4,261.1 L282.4,261.1 L283.4,261.1 L284.4,261.1 L285.4,261.1 L286.4,261.1 L287.4,261.2 L288.5,261.2 L289.5,261.2 L290.5,261.2 L291.5,261.2 L292.5,261.2 L293.5,261.2 L294.6,261.3 L295.6,261.3 L296.6,261.3 L297.6,261.3 L298.6,261.3 L299.6,261.3 L300.6,261.3 L301.6,261.3 L302.6,261.4 L303.6,261.4 L304.6,261.4 L305.6,261.4 L306.6,261.4 L307.5,261.4 L308.5,261.4 L309.5,261.5 L310.4,261.5 L311.4,261.5" fill="none" stroke="#ff0000" stroke-width="1.05" stroke-linejoin="round"/>
<path d="M50.2,250.3 L51.3,250.3 L52.3,250.3 L53.4,250.3 L54.4,250.2 L55.5,250.2 L56.5,250.1 L57.5,250.0 L58.6,249.9 L59.6,249.8 L60.6,249.7 L61.6,249.5 L62.5,249.3 L63.5,249.1 L64.5,248.9 L65.4,248.7 L66.4,248.4 L67.3,248.2 L68.3,247.9 L69.2,247.6 L70.1,247.3 L71.1,247.0 L72.0,246.6 L72.9,246.3 L73.8,245.9 L74.7,245.5 L75.5,245.1 L76.4,244.7 L77.3,244.3 L78.1,243.8 L79.0,243.4 L79.8,242.9 L80.7,242.4 L81.5,241.9 L82.3,241.4 L83.2,240.9 L84.0,240.4 L84.8,239.8 L85.6,239.3 L86.4,238.7 L87.1,238.2 L87.9,237.6 L88.7,237.0 L89.4,236.4 L90.2,235.8 L90.9,235.1 L91.7,234.5 L92.4,233.8 L93.1,233.2 L93.9,232.5 L94.6,231.9 L95.3,231.2 L96.0,230.5 L96.8,229.8 L97.5,229.1 L98.2,228.4 L98.9,227.7 L99.6,227.0 L100.2,226.2 L100.9,225.5 L101.6,224.7 L102.3,224.0 L102.9,223.2 L103.6,222.5 L104.2,221.7 L104.9,220.9 L105.5,220.2 L106.1,219.4 L106.7,218.6 L107.4,217.8 L108.0,217.0 L108.6,216.2 L109.2,215.4 L109.8,214.6 L110.3,213.8 L110.9,213.0 L111.5,212.2 L112.1,211.4 L112.6,210.6 L113.2,209.8 L113.7,209.0 L114.3,208.1 L114.8,207.3 L115.4,206.5 L115.9,205.7 L116.4,204.8 L117.0,204.0 L117.5,203.2 L118.0,202.3 L118.5,201.5 L119.0,200.6 L119.6,199.8 L120.1,199.0 L120.6,198.1 L121.1,197.3 L121.6,196.4 L122.1,195.6 L122.6,194.7 L123.1,193.8 L123.5,193.0 L124.0,192.1 L124.5,191.3 L125.0,190.4 L125.5,189.5 L126.0,188.7 L126.5,187.8 L127.0,186.9 L127.5,186.1 L127.9,185.2 L128.4,184.3 L128.9,183.5 L129.4,182.6 L129.9,181.8 L130.5,180.9 L131.0,180.1 L131.6,179.3 L132.2,178.5 L132.8,177.7 L133.5,177.0 L134.2,176.3 L134.9,175.6 L135.6,175.0 L136.4,174.3 L137.2,173.7 L138.0,173.1 L138.7,172.4 L139.5,171.8 L140.2,171.1 L140.9,170.4 L141.6,169.7 L142.3,168.9 L142.9,168.2 L143.5,167.4 L144.1,166.6 L144.7,165.8 L145.2,165.0 L145.8,164.2 L146.3,163.3 L146.8,162.5 L147.3,161.6 L147.7,160.7 L148.2,159.8 L148.7,158.9 L149.1,158.1 L149.5,157.2 L150.0,156.3 L150.4,155.4 L150.8,154.5 L151.2,153.6 L151.6,152.7 L152.0,151.7 L152.4,150.8 L152.7,149.9 L153.1,149.0 L153.5,148.1 L153.8,147.2 L154.2,146.2 L154.5,145.3 L154.9,144.4 L155.2,143.5 L155.5,142.5 L155.8,141.6 L156.2,140.7 L156.5,139.7 L156.8,138.8 L157.1,137.8 L157.4,136.9 L157.6,136.0 L157.9,135.0 L158.2,134.1 L158.5,133.1 L158.8,132.2 L159.0,131.2 L159.3,130.3 L159.6,129.3 L159.8,128.4 L160.1,127.4 L160.3,126.4 L160.6,125.5 L160.8,124.5 L161.0,123.6 L161.3,122.6 L161.5,121.6 L161.7,120.7 L162.0,119.7 L162.2,118.7 L162.4,117.8 L162.7,116.8 L162.9,115.8 L163.1,114.9 L163.3,113.9 L163.5,112.9 L163.8,112.0 L164.0,111.0 L164.2,110.0 L164.4,109.1 L164.6,108.1 L164.8,107.1 L165.0,106.2 L165.3,105.2 L165.5,104.2 L165.7,103.3 L165.9,102.3 L166.1,101.3 L166.3,100.3 L166.5,99.4 L166.8,98.4 L167.0,97.4 L167.2,96.5 L167.4,95.5 L167.6,94.6 L167.8,93.6 L168.1,92.6 L168.3,91.7 L168.5,90.7 L168.8,89.7 L169.0,88.8 L169.2,87.8 L169.4,86.9 L169.7,85.9 L169.9,84.9 L170.1,84.0 L170.4,83.0 L170.6,82.1 L170.8,81.1 L171.1,80.1 L171.3,79.2 L171.6,78.2 L171.8,77.3 L172.0,76.3 L172.3,75.3 L172.5,74.4 L172.7,73.4 L172.9,72.5 L173.2,71.5 L173.4,70.5 L173.6,69.6 L173.9,68.6 L174.1,67.7 L174.3,66.7 L174.5,65.7 L174.8,64.8 L175.0,63.8 L175.2,62.8 L175.5,61.9 L175.7,60.9 L175.9,59.9 L176.2,59.0 L176.4,58.0 L176.6,57.0 L176.9,56.0 L177.1,55.1 L177.4,54.1 L177.7,53.1 L178.0,52.1 L178.4,51.1 L178.8,50.1 L179.2,49.1 L179.7,48.1 L180.2,47.1 L180.8,46.2 L181.5,45.3 L182.1,44.6 L182.9,44.0 L183.6,43.5 L184.4,43.2 L185.2,43.0 L186.0,43.0 L186.7,43.2 L187.5,43.6 L188.1,44.1 L188.7,44.7 L189.3,45.5 L189.8,46.4 L190.3,47.3 L190.8,48.2 L191.2,49.2 L191.6,50.1 L192.0,51.1 L192.4,52.0 L192.7,53.0 L193.1,53.9 L193.4,54.9 L193.6,55.8 L193.9,56.8 L194.2,57.8 L194.4,58.7 L194.6,59.7 L194.8,60.7 L195.0,61.7 L195.2,62.6 L195.3,63.6 L195.5,64.6 L195.6,65.6 L195.8,66.6 L195.9,67.6 L196.0,68.6 L196.1,69.6 L196.2,70.5 L196.3,71.5 L196.4,72.5 L196.5,73.5 L196.6,74.5 L196.6,75.5 L196.7,76.5 L196.8,77.5 L196.9,78.5 L196.9,79.5 L197.0,80.5 L197.1,81.5 L197.1,82.5 L197.2,83.5 L197.3,84.4 L197.4,85.4 L197.5,86.4 L197.6,87.4 L197.7,88.4 L197.8,89.4 L197.9,90.4 L198.0,91.3 L198.2,92.3 L198.3,93.3 L198.4,94.3 L198.5,95.3 L198.7,96.3 L198.8,97.2 L198.9,98.2 L199.1,99.2 L199.2,100.2 L199.4,101.1 L199.5,102.1 L199.6,103.1 L199.8,104.1 L199.9,105.1 L200.1,106.0 L200.2,107.0 L200.4,108.0 L200.6,109.0 L200.7,109.9 L200.9,110.9 L201.0,111.9 L201.2,112.9 L201.3,113.8 L201.5,114.8 L201.6,115.8 L201.8,116.8 L202.0,117.7 L202.1,118.7 L202.3,119.7 L202.4,120.7 L202.6,121.6 L202.7,122.6 L202.9,123.6 L203.0,124.6 L203.2,125.6 L203.3,126.5 L203.5,127.5 L203.6,128.5 L203.7,129.5 L203.9,130.5 L204.0,131.4 L204.2,132.4 L204.3,133.4 L204.4,134.4 L204.6,135.4 L204.7,136.4 L204.9,137.3 L205.0,138.3 L205.1,139.3 L205.3,140.3 L205.4,141.3 L205.5,142.3 L205.7,143.2 L205.8,144.2 L205.9,145.2 L206.1,146.2 L206.2,147.2 L206.3,148.2 L206.5,149.1 L206.6,150.1 L206.7,151.1 L206.9,152.1 L207.0,153.1 L207.1,154.1 L207.3,155.0 L207.4,156.0 L207.5,157.0 L207.6,158.0 L207.8,159.0 L207.9,160.0 L208.0,161.0 L208.2,161.9 L208.3,162.9 L208.4,163.9 L208.6,164.9 L208.7,165.9 L208.8,166.9 L209.0,167.8 L209.1,168.8 L209.2,169.8 L209.4,170.8 L209.5,171.8 L209.6,172.7 L209.8,173.7 L209.9,174.7 L210.1,175.7 L210.2,176.7 L210.3,177.6 L210.5,178.6 L210.6,179.6 L210.8,180.6 L210.9,181.6 L211.0,182.5 L211.2,183.5 L211.3,184.5 L211.5,185.5 L211.6,186.5 L211.8,187.4 L211.9,188.4 L212.1,189.4 L212.2,190.4 L212.4,191.3 L212.5,192.3 L212.7,193.3 L212.8,194.2 L213.0,195.2 L213.2,196.2 L213.3,197.2 L213.5,198.1 L213.7,199.1 L213.8,200.1 L214.0,201.0 L214.2,202.0 L214.4,203.0 L214.5,204.0 L214.7,204.9 L214.9,205.9 L215.1,206.9 L215.3,207.8 L215.5,208.8 L215.7,209.8 L215.9,210.7 L216.1,211.7 L216.4,212.7 L216.6,213.6 L216.8,214.6 L217.0,215.5 L217.3,216.5 L217.5,217.5 L217.8,218.4 L218.0,219.4 L218.3,220.4 L218.5,221.3 L218.8,222.3 L219.1,223.2 L219.4,224.2 L219.7,225.2 L220.0,226.1 L220.3,227.1 L220.6,228.1 L220.9,229.0 L221.2,230.0 L221.6,230.9 L221.9,231.9 L222.3,232.8 L222.6,233.8 L223.0,234.7 L223.4,235.6 L223.8,236.6 L224.1,237.5 L224.5,238.4 L224.8,239.3 L225.2,240.2 L225.6,241.0 L226.0,241.9 L226.4,242.7 L226.9,243.6 L227.4,244.4 L227.8,245.2 L228.3,246.0 L228.9,246.7 L229.4,247.4 L230.0,248.2 L230.6,248.9 L231.2,249.5 L231.8,250.2 L232.5,250.8 L233.1,251.4 L233.8,252.0 L234.6,252.5 L235.3,253.0 L236.1,253.5 L236.9,253.9 L237.8,254.3 L238.7,254.7 L239.6,255.1 L240.5,255.4 L241.4,255.7 L242.4,256.0 L243.4,256.2 L244.4,256.5 L245.4,256.7 L246.4,256.9 L247.4,257.0 L248.5,257.2 L249.5,257.3 L250.6,257.4 L251.7,257.5 L252.7,257.6 L253.7,257.7 L254.8,257.8 L255.8,257.9 L256.8,258.0 L257.8,258.0 L258.9,258.1 L259.8,258.1 L260.8,258.2 L261.8,258.2 L262.8,258.3 L263.8,258.3 L264.7,258.4 L265.7,258.4 L266.7,258.4 L267.6,258.5 L268.6,258.5 L269.6,258.5 L270.5,258.6 L271.5,258.6 L272.5,258.6 L273.4,258.6 L274.4,258.6 L275.4,258.7 L276.4,258.7 L277.4,258.7 L278.4,258.7 L279.4,258.7 L280.4,258.7 L281.4,258.7 L282.4,258.8 L283.4,258.8 L284.4,258.8 L285.4,258.8 L286.4,258.8 L287.4,258.8 L288.5,258.8 L289.5,258.8 L290.5,258.8 L291.5,258.8 L292.5,258.8 L293.5,258.9 L294.6,258.9 L295.6,258.9 L296.6,258.9 L297.6,258.9 L298.6,258.9 L299.6,258.9 L300.6,258.9 L301.6,258.9 L302.6,258.9 L303.6,258.9 L304.6,258.9 L305.6,258.9 L306.6,258.9 L307.5,259.0 L308.5,259.0 L309.5,259.0 L310.4,259.0 L311.4,259.0" fill="none" stroke="#0000ff" stroke-width="1.05" stroke-linejoin="round"/>
<path d="M50.2,255.3 L51.3,255.4 L52.4,255.4 L53.4,255.3 L54.5,255.3 L55.5,255.2 L56.5,255.2 L57.6,255.0 L58.6,254.9 L59.6,254.8 L60.6,254.6 L61.6,254.5 L62.6,254.3 L63.6,254.0 L64.5,253.8 L65.5,253.6 L66.5,253.3 L67.4,253.0 L68.4,252.7 L69.3,252.4 L70.3,252.0 L71.2,251.7 L72.1,251.3 L73.0,250.9 L73.9,250.5 L74.8,250.1 L75.7,249.7 L76.6,249.3 L77.5,248.8 L78.4,248.3 L79.2,247.8 L80.1,247.3 L81.0,246.8 L81.8,246.3 L82.6,245.7 L83.5,245.2 L84.3,244.6 L85.1,244.0 L85.9,243.4 L86.7,242.8 L87.5,242.2 L88.3,241.6 L89.1,241.0 L89.9,240.3 L90.7,239.7 L91.4,239.0 L92.2,238.3 L93.0,237.6 L93.7,236.9 L94.5,236.2 L95.2,235.5 L95.9,234.8 L96.6,234.0 L97.4,233.3 L98.1,232.6 L98.8,231.8 L99.5,231.0 L100.2,230.3 L100.8,229.5 L101.5,228.7 L102.2,227.9 L102.9,227.1 L103.5,226.3 L104.2,225.5 L104.8,224.7 L105.5,223.8 L106.1,223.0 L106.7,222.2 L107.3,221.4 L108.0,220.5 L108.6,219.7 L109.2,218.8 L109.8,218.0 L110.4,217.1 L110.9,216.3 L111.5,215.4 L112.1,214.5 L112.7,213.7 L113.2,212.8 L113.8,211.9 L114.3,211.1 L114.9,210.2 L115.4,209.3 L116.0,208.4 L116.5,207.5 L117.0,206.7 L117.6,205.8 L118.1,204.9 L118.6,204.0 L119.1,203.1 L119.6,202.2 L120.2,201.3 L120.7,200.4 L121.2,199.5 L121.7,198.6 L122.2,197.7 L122.7,196.8 L123.2,195.9 L123.7,195.0 L124.1,194.0 L124.6,193.1 L125.1,192.2 L125.6,191.3 L126.1,190.4 L126.6,189.5 L127.1,188.5 L127.6,187.6 L128.1,186.7 L128.5,185.8 L129.0,184.8 L129.5,183.9 L130.0,183.0 L130.5,182.1 L131.1,181.2 L131.6,180.3 L132.2,179.5 L132.8,178.6 L133.4,177.8 L134.1,177.0 L134.8,176.3 L135.5,175.5 L136.2,174.8 L137.0,174.2 L137.8,173.5 L138.6,172.8 L139.3,172.1 L140.1,171.4 L140.8,170.7 L141.5,170.0 L142.2,169.2 L142.9,168.4 L143.5,167.6 L144.1,166.8 L144.7,165.9 L145.3,165.1 L145.8,164.2 L146.4,163.3 L146.9,162.4 L147.4,161.5 L147.9,160.6 L148.3,159.6 L148.8,158.7 L149.3,157.7 L149.7,156.8 L150.1,155.8 L150.6,154.9 L151.0,153.9 L151.4,153.0 L151.8,152.0 L152.2,151.1 L152.6,150.1 L153.0,149.1 L153.3,148.1 L153.7,147.2 L154.1,146.2 L154.4,145.2 L154.8,144.2 L155.1,143.2 L155.5,142.3 L155.8,141.3 L156.1,140.3 L156.4,139.3 L156.8,138.3 L157.1,137.3 L157.4,136.3 L157.7,135.3 L158.0,134.3 L158.2,133.3 L158.5,132.3 L158.8,131.3 L159.1,130.3 L159.4,129.3 L159.6,128.2 L159.9,127.2 L160.2,126.2 L160.4,125.2 L160.7,124.2 L160.9,123.2 L161.2,122.1 L161.4,121.1 L161.6,120.1 L161.9,119.1 L162.1,118.1 L162.3,117.0 L162.6,116.0 L162.8,115.0 L163.0,114.0 L163.3,112.9 L163.5,111.9 L163.7,110.9 L163.9,109.8 L164.1,108.8 L164.4,107.8 L164.6,106.8 L164.8,105.7 L165.0,104.7 L165.2,103.7 L165.4,102.6 L165.6,101.6 L165.9,100.6 L166.1,99.6 L166.3,98.5 L166.5,97.5 L166.7,96.5 L166.9,95.4 L167.1,94.4 L167.4,93.4 L167.6,92.4 L167.8,91.3 L168.0,90.3 L168.2,89.3 L168.4,88.2 L168.7,87.2 L168.9,86.2 L169.1,85.2 L169.4,84.2 L169.6,83.1 L169.8,82.1 L170.0,81.1 L170.3,80.1 L170.5,79.1 L170.7,78.0 L171.0,77.0 L171.2,76.0 L171.4,75.0 L171.7,74.0 L171.9,72.9 L172.2,71.9 L172.4,70.9 L172.6,69.9 L172.9,68.9 L173.1,67.8 L173.3,66.8 L173.5,65.8 L173.8,64.8 L174.0,63.8 L174.2,62.7 L174.5,61.7 L174.7,60.7 L174.9,59.7 L175.1,58.6 L175.3,57.6 L175.5,56.6 L175.8,55.6 L176.0,54.5 L176.2,53.5 L176.4,52.5 L176.6,51.4 L176.8,50.4 L177.0,49.4 L177.2,48.3 L177.4,47.3 L177.7,46.3 L177.9,45.2 L178.2,44.2 L178.5,43.1 L178.9,42.0 L179.3,41.0 L179.7,39.9 L180.2,38.8 L180.7,37.9 L181.3,37.0 L181.9,36.2 L182.5,35.5 L183.2,35.0 L183.9,34.7 L184.6,34.5 L185.3,34.5 L186.0,34.7 L186.6,35.0 L187.2,35.6 L187.7,36.3 L188.2,37.1 L188.7,38.0 L189.1,39.0 L189.5,40.0 L189.9,41.0 L190.3,42.0 L190.6,43.0 L191.0,44.0 L191.3,45.0 L191.6,46.0 L191.8,47.0 L192.1,48.0 L192.3,49.0 L192.5,50.1 L192.7,51.1 L192.9,52.1 L193.1,53.2 L193.3,54.2 L193.4,55.2 L193.6,56.3 L193.7,57.3 L193.8,58.4 L194.0,59.4 L194.1,60.5 L194.2,61.5 L194.3,62.6 L194.4,63.6 L194.4,64.7 L194.5,65.7 L194.6,66.8 L194.7,67.8 L194.7,68.9 L194.8,69.9 L194.9,71.0 L195.0,72.0 L195.0,73.1 L195.1,74.2 L195.2,75.2 L195.2,76.3 L195.3,77.3 L195.4,78.4 L195.5,79.4 L195.6,80.5 L195.7,81.5 L195.8,82.5 L195.9,83.6 L196.0,84.6 L196.1,85.7 L196.3,86.7 L196.4,87.8 L196.5,88.8 L196.6,89.8 L196.8,90.9 L196.9,91.9 L197.0,93.0 L197.2,94.0 L197.3,95.0 L197.5,96.1 L197.6,97.1 L197.7,98.1 L197.9,99.2 L198.0,100.2 L198.2,101.2 L198.3,102.3 L198.5,103.3 L198.7,104.4 L198.8,105.4 L199.0,106.4 L199.1,107.5 L199.3,108.5 L199.4,109.5 L199.6,110.6 L199.7,111.6 L199.9,112.6 L200.1,113.7 L200.2,114.7 L200.4,115.7 L200.5,116.8 L200.7,117.8 L200.8,118.8 L201.0,119.9 L201.1,120.9 L201.3,122.0 L201.4,123.0 L201.6,124.0 L201.7,125.1 L201.8,126.1 L202.0,127.2 L202.1,128.2 L202.3,129.2 L202.4,130.3 L202.5,131.3 L202.7,132.4 L202.8,133.4 L203.0,134.4 L203.1,135.5 L203.2,136.5 L203.4,137.6 L203.5,138.6 L203.6,139.7 L203.8,140.7 L203.9,141.7 L204.0,142.8 L204.2,143.8 L204.3,144.9 L204.4,145.9 L204.6,147.0 L204.7,148.0 L204.8,149.0 L205.0,150.1 L205.1,151.1 L205.2,152.2 L205.4,153.2 L205.5,154.3 L205.6,155.3 L205.7,156.3 L205.9,157.4 L206.0,158.4 L206.1,159.5 L206.3,160.5 L206.4,161.6 L206.5,162.6 L206.7,163.6 L206.8,164.7 L206.9,165.7 L207.1,166.8 L207.2,167.8 L207.3,168.9 L207.5,169.9 L207.6,170.9 L207.7,172.0 L207.9,173.0 L208.0,174.1 L208.2,175.1 L208.3,176.1 L208.4,177.2 L208.6,178.2 L208.7,179.3 L208.9,180.3 L209.0,181.3 L209.1,182.4 L209.3,183.4 L209.4,184.4 L209.6,185.5 L209.7,186.5 L209.9,187.6 L210.0,188.6 L210.2,189.6 L210.3,190.7 L210.5,191.7 L210.6,192.7 L210.8,193.7 L210.9,194.8 L211.1,195.8 L211.3,196.8 L211.4,197.9 L211.6,198.9 L211.8,199.9 L211.9,201.0 L212.1,202.0 L212.3,203.0 L212.5,204.0 L212.6,205.1 L212.8,206.1 L213.0,207.1 L213.2,208.1 L213.4,209.2 L213.6,210.2 L213.8,211.2 L214.0,212.2 L214.2,213.3 L214.5,214.3 L214.7,215.3 L214.9,216.3 L215.1,217.4 L215.4,218.4 L215.6,219.4 L215.9,220.4 L216.1,221.4 L216.4,222.5 L216.6,223.5 L216.9,224.5 L217.2,225.5 L217.5,226.5 L217.8,227.5 L218.1,228.6 L218.4,229.6 L218.7,230.6 L219.0,231.6 L219.3,232.6 L219.7,233.6 L220.0,234.7 L220.4,235.7 L220.7,236.7 L221.1,237.7 L221.5,238.6 L221.9,239.6 L222.3,240.6 L222.8,241.5 L223.2,242.5 L223.7,243.4 L224.1,244.4 L224.6,245.3 L225.1,246.2 L225.7,247.0 L226.2,247.9 L226.8,248.7 L227.3,249.5 L227.9,250.3 L228.6,251.1 L229.2,251.9 L229.8,252.6 L230.5,253.3 L231.2,254.0 L231.9,254.6 L232.7,255.3 L233.4,255.9 L234.2,256.4 L235.0,257.0 L235.8,257.5 L236.7,257.9 L237.6,258.4 L238.5,258.8 L239.4,259.2 L240.4,259.5 L241.3,259.8 L242.3,260.1 L243.3,260.3 L244.3,260.6 L245.4,260.8 L246.4,261.0 L247.4,261.1 L248.5,261.3 L249.5,261.4 L250.6,261.6 L251.7,261.7 L252.7,261.8 L253.7,261.9 L254.8,261.9 L255.8,262.0 L256.8,262.1 L257.8,262.1 L258.9,262.2 L259.8,262.2 L260.8,262.3 L261.8,262.3 L262.8,262.4 L263.8,262.4 L264.7,262.5 L265.7,262.5 L266.7,262.5 L267.6,262.6 L268.6,262.6 L269.6,262.6 L270.5,262.6 L271.5,262.6 L272.5,262.7 L273.4,262.7 L274.4,262.7 L275.4,262.7 L276.4,262.7 L277.4,262.7 L278.4,262.7 L279.4,262.7 L280.4,262.7 L281.4,262.7 L282.4,262.7 L283.4,262.8 L284.4,262.8 L285.4,262.8 L286.4,262.8 L287.4,262.8 L288.5,262.8 L289.5,262.8 L290.5,262.8 L291.5,262.8 L292.5,262.8 L293.5,262.8 L294.6,262.8 L295.6,262.8 L296.6,262.8 L297.6,262.8 L298.6,262.8 L299.6,262.8 L300.6,262.8 L301.6,262.8 L302.6,262.8 L303.6,262.8 L304.6,262.8 L305.6,262.8 L306.6,262.8 L307.5,262.8 L308.5,262.8 L309.5,262.8 L310.4,262.8 L311.4,262.8" fill="none" stroke="#111111" stroke-width="1.05" stroke-linejoin="round"/>
<rect x="49.8" y="7.3" width="262.2" height="258.4" fill="none" stroke="#000" stroke-width="1.6"/>
<path d="M44.8,265.7H49.8M44.8,201.1H49.8M44.8,136.5H49.8M44.8,71.9H49.8M44.8,7.3H49.8M47.3,233.4H49.8M47.3,168.8H49.8M47.3,104.2H49.8M47.3,39.6H49.8" stroke="#000" stroke-width="1.5" fill="none"/>
<path d="M89.13,265.7V269.7M141.57,265.7V269.7M194.01,265.7V269.7M246.45,265.7V269.7M298.89,265.7V269.7M62.91,265.7V268.2M115.35,265.7V268.2M167.79,265.7V268.2M220.23,265.7V268.2M272.67,265.7V268.2" stroke="#000" stroke-width="1.5" fill="none"/>
<text transform="translate(40.5,269.1) scale(1.09,1)" x="0" y="0" text-anchor="end" style="font-family:'Liberation Sans',sans-serif;font-size:13.8px;font-weight:normal" fill="#404040" stroke="#404040" stroke-width="0.3">0.0</text>
<text transform="translate(40.5,204.5) scale(1.09,1)" x="0" y="0" text-anchor="end" style="font-family:'Liberation Sans',sans-serif;font-size:13.8px;font-weight:normal" fill="#404040" stroke="#404040" stroke-width="0.3">0.2</text>
<text transform="translate(40.5,139.9) scale(1.09,1)" x="0" y="0" text-anchor="end" style="font-family:'Liberation Sans',sans-serif;font-size:13.8px;font-weight:normal" fill="#404040" stroke="#404040" stroke-width="0.3">0.4</text>
<text transform="translate(40.5,75.3) scale(1.09,1)" x="0" y="0" text-anchor="end" style="font-family:'Liberation Sans',sans-serif;font-size:13.8px;font-weight:normal" fill="#404040" stroke="#404040" stroke-width="0.3">0.6</text>
<text transform="translate(40.5,10.7) scale(1.09,1)" x="0" y="0" text-anchor="end" style="font-family:'Liberation Sans',sans-serif;font-size:13.8px;font-weight:normal" fill="#404040" stroke="#404040" stroke-width="0.3">0.8</text>
<text transform="translate(89.13,283.3) scale(1.04,1)" x="0" y="0" text-anchor="middle" style="font-family:'Liberation Sans',sans-serif;font-size:13.5px;font-weight:normal" fill="#404040" stroke="#404040" stroke-width="0.3">480</text>
<text transform="translate(141.57,283.3) scale(1.04,1)" x="0" y="0" text-anchor="middle" style="font-family:'Liberation Sans',sans-serif;font-size:13.5px;font-weight:normal" fill="#404040" stroke="#404040" stroke-width="0.3">520</text>
<text transform="translate(194.01,283.3) scale(1.04,1)" x="0" y="0" text-anchor="middle" style="font-family:'Liberation Sans',sans-serif;font-size:13.5px;font-weight:normal" fill="#404040" stroke="#404040" stroke-width="0.3">560</text>
<text transform="translate(246.45,283.3) scale(1.04,1)" x="0" y="0" text-anchor="middle" style="font-family:'Liberation Sans',sans-serif;font-size:13.5px;font-weight:normal" fill="#404040" stroke="#404040" stroke-width="0.3">600</text>
<text transform="translate(298.89,283.3) scale(1.04,1)" x="0" y="0" text-anchor="middle" style="font-family:'Liberation Sans',sans-serif;font-size:13.5px;font-weight:normal" fill="#404040" stroke="#404040" stroke-width="0.3">640</text>
<text x="173.2" y="298.9" text-anchor="middle" style="font-family:'Liberation Sans',sans-serif;font-size:16px;font-weight:bold" fill="#000" textLength="141" lengthAdjust="spacingAndGlyphs">Wavelength (nm)</text>
<text transform="translate(13,114.9) rotate(-90)" x="0" y="0" text-anchor="middle" style="font-family:'Liberation Sans',sans-serif;font-size:15px;font-weight:bold" fill="#000" textLength="140" lengthAdjust="spacingAndGlyphs">Absorbance (a.u.)</text>
<text x="52.8" y="26" text-anchor="start" style="font-family:'Liberation Sans',sans-serif;font-size:18.5px;font-weight:bold" fill="#000" textLength="23.5" lengthAdjust="spacingAndGlyphs">(a)</text>
<path d="M256,38.7 H264.2 V177.3 H268.7 L260.1,228.8 L251.5,177.3 H256 Z" fill="url(#ga)"/>
<text x="261.7" y="36.9" text-anchor="middle" style="font-family:'Liberation Sans',sans-serif;font-size:11.5px;font-weight:bold" fill="#000" textLength="57.5" lengthAdjust="spacingAndGlyphs">0 minute</text>
<text x="262" y="239.9" text-anchor="middle" style="font-family:'Liberation Sans',sans-serif;font-size:11.5px;font-weight:bold" fill="#000" textLength="71.5" lengthAdjust="spacingAndGlyphs">180 minute</text>
<path d="M370.9,252.2 L371.9,252.1 L373.0,252.0 L374.0,251.9 L375.0,251.9 L376.0,251.8 L377.0,251.8 L378.0,251.7 L379.0,251.7 L380.0,251.7 L381.0,251.6 L382.1,251.6 L383.1,251.6 L384.1,251.5 L385.0,251.5 L386.0,251.5 L387.0,251.5 L388.0,251.5 L389.0,251.4 L390.0,251.4 L391.0,251.4 L392.0,251.4 L393.0,251.4 L394.0,251.4 L395.0,251.4 L395.9,251.4 L396.9,251.4 L397.9,251.3 L398.9,251.3 L399.9,251.3 L400.9,251.3 L401.9,251.3 L402.8,251.3 L403.8,251.3 L404.8,251.3 L405.8,251.3 L406.8,251.3 L407.8,251.2 L408.8,251.2 L409.8,251.2 L410.8,251.2 L411.8,251.2 L412.8,251.1 L413.8,251.1 L414.8,251.1 L415.8,251.1 L416.8,251.0 L417.8,251.0 L418.8,250.9 L419.8,250.9 L420.8,250.8 L421.8,250.8 L422.9,250.7 L423.9,250.6 L424.9,250.6 L425.9,250.5 L426.9,250.4 L427.9,250.3 L428.9,250.2 L429.9,250.1 L430.9,250.0 L431.9,249.8 L432.9,249.7 L433.9,249.5 L434.9,249.4 L435.9,249.2 L436.9,249.0 L437.9,248.8 L438.9,248.6 L439.8,248.4 L440.8,248.1 L441.7,247.9 L442.7,247.6 L443.6,247.3 L444.5,247.0 L445.5,246.7 L446.4,246.4 L447.3,246.0 L448.2,245.7 L449.1,245.3 L450.0,244.9 L450.8,244.4 L451.7,244.0 L452.5,243.5 L453.3,243.1 L454.2,242.6 L455.0,242.0 L455.8,241.5 L456.6,240.9 L457.3,240.3 L458.1,239.7 L458.8,239.1 L459.6,238.5 L460.3,237.8 L461.0,237.1 L461.7,236.4 L462.4,235.7 L463.1,235.0 L463.7,234.2 L464.4,233.5 L465.1,232.7 L465.7,231.9 L466.4,231.2 L467.0,230.4 L467.7,229.6 L468.3,228.8 L468.9,228.0 L469.6,227.2 L470.2,226.4 L470.8,225.6 L471.5,224.8 L472.1,224.0 L472.7,223.2 L473.4,222.4 L474.0,221.6 L474.7,220.8 L475.3,220.0 L476.0,219.3 L476.6,218.5 L477.3,217.8 L477.9,217.1 L478.6,216.4 L479.3,215.7 L480.0,215.0 L480.7,214.3 L481.4,213.7 L482.1,213.0 L482.8,212.4 L483.6,211.8 L484.3,211.2 L485.0,210.6 L485.8,209.9 L486.5,209.3 L487.2,208.6 L487.9,207.9 L488.5,207.1 L489.2,206.3 L489.8,205.5 L490.4,204.6 L491.0,203.7 L491.6,202.8 L492.3,201.9 L492.9,201.0 L493.5,200.2 L494.2,199.4 L494.9,198.7 L495.6,198.0 L496.4,197.5 L497.2,197.0 L498.1,196.7 L498.9,196.5 L499.8,196.4 L500.7,196.4 L501.5,196.5 L502.4,196.7 L503.2,197.1 L503.9,197.5 L504.6,198.1 L505.2,198.8 L505.8,199.5 L506.3,200.4 L506.8,201.3 L507.3,202.2 L507.7,203.1 L508.1,204.1 L508.5,205.1 L508.8,206.1 L509.1,207.1 L509.5,208.0 L509.8,209.0 L510.0,210.0 L510.3,211.0 L510.6,212.0 L510.8,213.0 L511.0,214.0 L511.3,215.0 L511.5,215.9 L511.7,216.9 L511.9,217.9 L512.1,218.9 L512.3,219.9 L512.5,220.8 L512.7,221.8 L512.9,222.8 L513.1,223.7 L513.4,224.7 L513.6,225.6 L513.8,226.6 L514.0,227.5 L514.3,228.5 L514.5,229.4 L514.8,230.3 L515.0,231.3 L515.3,232.2 L515.5,233.1 L515.8,234.1 L516.1,235.0 L516.4,236.0 L516.7,236.9 L517.0,237.9 L517.3,238.8 L517.6,239.8 L518.0,240.7 L518.3,241.7 L518.7,242.6 L519.0,243.6 L519.4,244.6 L519.8,245.6 L520.2,246.5 L520.6,247.5 L521.1,248.5 L521.5,249.4 L522.0,250.3 L522.5,251.2 L523.0,252.1 L523.5,253.0 L524.1,253.8 L524.6,254.6 L525.2,255.4 L525.9,256.1 L526.5,256.8 L527.2,257.5 L527.9,258.1 L528.6,258.7 L529.4,259.2 L530.2,259.6 L531.0,260.1 L531.8,260.4 L532.7,260.8 L533.6,261.0 L534.5,261.3 L535.5,261.5 L536.4,261.7 L537.4,261.8 L538.4,261.9 L539.4,262.0 L540.4,262.1 L541.4,262.2 L542.4,262.2 L543.4,262.2 L544.5,262.3 L545.5,262.3 L546.5,262.3 L547.6,262.3 L548.6,262.3 L549.6,262.3 L550.6,262.3 L551.6,262.3 L552.6,262.3 L553.7,262.3 L554.7,262.3 L555.7,262.4 L556.7,262.4 L557.7,262.4 L558.7,262.4 L559.7,262.4 L560.7,262.4 L561.7,262.4 L562.7,262.4 L563.7,262.4 L564.7,262.4 L565.7,262.4 L566.7,262.3 L567.7,262.3 L568.6,262.3 L569.6,262.3 L570.6,262.3 L571.6,262.3 L572.6,262.3 L573.6,262.3 L574.6,262.3 L575.6,262.3 L576.6,262.3 L577.5,262.3 L578.5,262.3 L579.5,262.3 L580.5,262.3 L581.5,262.3 L582.5,262.3 L583.5,262.3 L584.5,262.3 L585.5,262.3 L586.5,262.3 L587.4,262.3 L588.4,262.3 L589.4,262.3 L590.4,262.3 L591.4,262.3 L592.4,262.3 L593.4,262.3 L594.4,262.3 L595.4,262.3 L596.4,262.3 L597.4,262.3 L598.4,262.3 L599.4,262.3 L600.4,262.3 L601.4,262.3 L602.4,262.3 L603.4,262.3 L604.4,262.3 L605.4,262.3 L606.5,262.3 L607.5,262.3 L608.5,262.3 L609.5,262.3 L610.5,262.3 L611.5,262.3 L612.5,262.3 L613.5,262.3 L614.5,262.3 L615.5,262.3 L616.5,262.3 L617.5,262.3 L618.5,262.3 L619.5,262.3 L620.5,262.3 L621.5,262.3 L622.5,262.3 L623.5,262.3 L624.5,262.3 L625.5,262.3 L626.4,262.3 L627.4,262.3 L628.4,262.3 L629.4,262.3 L630.4,262.3 L631.4,262.3 L632.4,262.3 L633.3,262.3" fill="none" stroke="#c49af2" stroke-width="1.3" stroke-linejoin="round"/>
<path d="M370.9,249.8 L372.0,249.8 L373.0,249.8 L374.0,249.7 L375.0,249.7 L376.0,249.6 L377.0,249.6 L378.0,249.5 L379.0,249.5 L380.0,249.4 L381.0,249.3 L382.0,249.2 L383.0,249.1 L384.0,249.0 L385.0,248.9 L386.0,248.8 L387.0,248.7 L388.0,248.6 L389.0,248.5 L390.0,248.4 L391.0,248.2 L391.9,248.1 L392.9,247.9 L393.9,247.8 L394.9,247.6 L395.9,247.4 L396.9,247.2 L397.9,247.0 L398.8,246.8 L399.8,246.6 L400.8,246.4 L401.7,246.2 L402.7,246.0 L403.7,245.7 L404.6,245.5 L405.6,245.2 L406.6,245.0 L407.5,244.7 L408.5,244.4 L409.4,244.1 L410.4,243.8 L411.3,243.5 L412.2,243.2 L413.2,242.9 L414.1,242.5 L415.0,242.2 L416.0,241.8 L416.9,241.4 L417.8,241.1 L418.7,240.7 L419.6,240.3 L420.5,239.9 L421.4,239.5 L422.3,239.0 L423.2,238.6 L424.1,238.2 L425.0,237.7 L425.9,237.2 L426.7,236.7 L427.6,236.3 L428.5,235.7 L429.3,235.2 L430.2,234.7 L431.0,234.2 L431.9,233.6 L432.7,233.1 L433.6,232.5 L434.4,231.9 L435.2,231.3 L436.0,230.7 L436.8,230.1 L437.6,229.5 L438.4,228.9 L439.2,228.2 L439.9,227.6 L440.7,226.9 L441.5,226.2 L442.2,225.6 L442.9,224.9 L443.7,224.2 L444.4,223.5 L445.1,222.7 L445.8,222.0 L446.4,221.3 L447.1,220.5 L447.8,219.8 L448.4,219.0 L449.0,218.2 L449.7,217.5 L450.3,216.7 L450.9,215.9 L451.4,215.1 L452.0,214.3 L452.6,213.4 L453.1,212.6 L453.6,211.8 L454.1,210.9 L454.6,210.1 L455.1,209.2 L455.6,208.4 L456.1,207.5 L456.6,206.6 L457.0,205.8 L457.5,204.9 L457.9,204.0 L458.4,203.1 L458.8,202.2 L459.3,201.3 L459.7,200.5 L460.2,199.6 L460.6,198.7 L461.0,197.8 L461.5,196.9 L461.9,196.0 L462.4,195.1 L462.8,194.2 L463.3,193.4 L463.7,192.5 L464.2,191.6 L464.7,190.7 L465.1,189.8 L465.6,189.0 L466.1,188.1 L466.6,187.3 L467.1,186.4 L467.7,185.5 L468.2,184.7 L468.7,183.8 L469.2,183.0 L469.8,182.2 L470.3,181.3 L470.8,180.5 L471.4,179.6 L471.9,178.8 L472.4,177.9 L473.0,177.1 L473.5,176.3 L474.1,175.4 L474.6,174.6 L475.1,173.7 L475.7,172.9 L476.2,172.0 L476.7,171.2 L477.2,170.3 L477.7,169.4 L478.2,168.6 L478.7,167.7 L479.2,166.8 L479.7,166.0 L480.2,165.1 L480.6,164.2 L481.1,163.3 L481.5,162.4 L481.9,161.5 L482.4,160.6 L482.8,159.7 L483.2,158.8 L483.6,157.9 L483.9,156.9 L484.3,156.0 L484.7,155.1 L485.0,154.1 L485.4,153.2 L485.7,152.2 L486.0,151.3 L486.4,150.3 L486.7,149.4 L487.0,148.4 L487.3,147.5 L487.6,146.5 L487.9,145.6 L488.1,144.6 L488.4,143.7 L488.7,142.7 L489.0,141.7 L489.2,140.8 L489.5,139.8 L489.7,138.8 L490.0,137.9 L490.2,136.9 L490.5,136.0 L490.7,135.0 L491.0,134.0 L491.2,133.1 L491.5,132.1 L491.7,131.2 L491.9,130.2 L492.2,129.3 L492.4,128.3 L492.6,127.3 L492.9,126.4 L493.1,125.4 L493.3,124.4 L493.6,123.5 L493.8,122.5 L494.1,121.5 L494.3,120.6 L494.6,119.6 L494.8,118.6 L495.1,117.6 L495.3,116.6 L495.6,115.6 L495.9,114.6 L496.2,113.6 L496.4,112.6 L496.7,111.6 L497.0,110.6 L497.3,109.6 L497.7,108.6 L498.0,107.6 L498.4,106.6 L498.8,105.7 L499.3,104.8 L499.8,104.0 L500.5,103.4 L501.2,102.8 L502.0,102.4 L502.8,102.1 L503.5,101.9 L504.3,102.0 L504.9,102.1 L505.5,102.4 L506.1,102.9 L506.6,103.4 L507.0,104.1 L507.5,104.9 L507.9,105.7 L508.2,106.6 L508.5,107.6 L508.8,108.6 L509.1,109.7 L509.4,110.7 L509.6,111.8 L509.9,112.8 L510.1,113.9 L510.3,114.9 L510.6,116.0 L510.8,117.0 L511.0,118.0 L511.2,119.1 L511.3,120.1 L511.5,121.1 L511.7,122.1 L511.9,123.1 L512.0,124.1 L512.2,125.1 L512.3,126.1 L512.5,127.1 L512.6,128.1 L512.8,129.0 L512.9,130.0 L513.0,131.0 L513.2,132.0 L513.3,133.0 L513.4,133.9 L513.5,134.9 L513.6,135.9 L513.7,136.9 L513.8,137.8 L513.9,138.8 L514.0,139.8 L514.1,140.8 L514.2,141.7 L514.3,142.7 L514.4,143.7 L514.5,144.7 L514.6,145.7 L514.7,146.6 L514.8,147.6 L514.8,148.6 L514.9,149.6 L515.0,150.6 L515.1,151.6 L515.2,152.6 L515.3,153.6 L515.4,154.6 L515.5,155.6 L515.5,156.6 L515.6,157.6 L515.7,158.6 L515.8,159.6 L515.9,160.6 L516.0,161.6 L516.1,162.6 L516.1,163.6 L516.2,164.6 L516.3,165.6 L516.4,166.6 L516.5,167.6 L516.6,168.6 L516.7,169.6 L516.8,170.6 L516.8,171.6 L516.9,172.6 L517.0,173.6 L517.1,174.6 L517.2,175.6 L517.3,176.6 L517.4,177.6 L517.5,178.6 L517.6,179.6 L517.7,180.6 L517.8,181.6 L517.9,182.6 L518.0,183.6 L518.1,184.6 L518.2,185.6 L518.3,186.6 L518.4,187.6 L518.5,188.6 L518.6,189.6 L518.7,190.6 L518.8,191.6 L518.9,192.6 L519.0,193.6 L519.1,194.5 L519.2,195.5 L519.4,196.5 L519.5,197.5 L519.6,198.5 L519.7,199.5 L519.8,200.5 L520.0,201.5 L520.1,202.5 L520.2,203.4 L520.4,204.4 L520.5,205.4 L520.6,206.4 L520.8,207.4 L520.9,208.4 L521.1,209.3 L521.2,210.3 L521.4,211.3 L521.5,212.3 L521.7,213.3 L521.9,214.3 L522.0,215.2 L522.2,216.2 L522.4,217.2 L522.5,218.2 L522.7,219.2 L522.9,220.2 L523.1,221.1 L523.3,222.1 L523.4,223.1 L523.6,224.1 L523.8,225.1 L524.0,226.0 L524.2,227.0 L524.5,228.0 L524.7,229.0 L524.9,230.0 L525.1,231.0 L525.3,231.9 L525.6,232.9 L525.8,233.9 L526.0,234.9 L526.3,235.9 L526.5,236.8 L526.8,237.8 L527.1,238.8 L527.3,239.7 L527.6,240.7 L527.9,241.7 L528.3,242.6 L528.6,243.6 L529.0,244.5 L529.3,245.4 L529.7,246.3 L530.1,247.2 L530.6,248.1 L531.0,249.0 L531.5,249.9 L532.0,250.8 L532.5,251.6 L533.1,252.4 L533.6,253.2 L534.2,254.0 L534.9,254.8 L535.5,255.5 L536.2,256.2 L536.9,256.9 L537.6,257.6 L538.4,258.2 L539.1,258.7 L539.9,259.2 L540.8,259.7 L541.6,260.1 L542.5,260.5 L543.4,260.8 L544.3,261.1 L545.3,261.3 L546.2,261.5 L547.2,261.6 L548.2,261.7 L549.2,261.8 L550.2,261.8 L551.2,261.9 L552.3,261.9 L553.3,261.9 L554.3,261.9 L555.4,261.8 L556.4,261.8 L557.4,261.8 L558.5,261.7 L559.5,261.7 L560.5,261.7 L561.5,261.7 L562.5,261.7 L563.5,261.7 L564.5,261.7 L565.5,261.7 L566.5,261.7 L567.5,261.7 L568.5,261.7 L569.5,261.7 L570.5,261.7 L571.5,261.8 L572.4,261.8 L573.4,261.8 L574.4,261.8 L575.4,261.8 L576.4,261.8 L577.4,261.8 L578.4,261.8 L579.4,261.8 L580.4,261.8 L581.4,261.8 L582.4,261.9 L583.4,261.9 L584.4,261.9 L585.4,261.9 L586.4,261.9 L587.4,261.9 L588.4,261.9 L589.4,261.9 L590.4,261.9 L591.4,261.9 L592.4,261.9 L593.4,261.9 L594.4,261.9 L595.4,261.9 L596.4,261.9 L597.4,261.9 L598.4,261.9 L599.4,261.9 L600.4,261.9 L601.4,261.9 L602.4,261.9 L603.4,261.9 L604.4,261.9 L605.4,261.9 L606.4,261.9 L607.4,261.9 L608.4,261.9 L609.4,261.9 L610.4,261.9 L611.4,261.9 L612.4,261.9 L613.4,261.9 L614.4,261.9 L615.4,261.9 L616.4,261.9 L617.4,261.9 L618.4,261.9 L619.4,261.9 L620.4,261.9 L621.4,261.9 L622.4,261.9 L623.4,261.9 L624.4,261.9 L625.4,261.9 L626.4,261.9 L627.4,261.9 L628.4,261.9 L629.4,261.9 L630.4,261.9 L631.4,261.9 L632.4,261.9 L633.4,261.9" fill="none" stroke="#f05a5a" stroke-width="1.3" stroke-linejoin="round"/>
<path d="M371.1,255.8 L372.1,255.7 L373.1,255.6 L374.0,255.5 L375.0,255.4 L376.0,255.3 L377.0,255.3 L378.0,255.2 L379.0,255.1 L379.9,255.1 L380.9,255.0 L381.9,255.0 L382.9,254.9 L383.9,254.9 L384.9,254.9 L385.9,254.8 L386.9,254.8 L387.9,254.8 L388.9,254.8 L389.9,254.8 L390.9,254.7 L391.9,254.7 L392.9,254.7 L393.9,254.7 L394.9,254.7 L395.9,254.7 L396.9,254.7 L397.9,254.7 L398.9,254.7 L399.9,254.7 L400.9,254.7 L401.9,254.7 L402.9,254.7 L403.9,254.7 L404.9,254.7 L405.9,254.7 L406.9,254.7 L407.9,254.7 L408.9,254.7 L409.9,254.7 L410.9,254.7 L411.9,254.7 L412.9,254.7 L413.9,254.7 L414.9,254.7 L415.9,254.7 L416.9,254.7 L417.9,254.6 L418.9,254.6 L419.9,254.6 L420.9,254.6 L421.9,254.5 L422.9,254.5 L423.9,254.5 L424.9,254.4 L425.9,254.4 L426.9,254.3 L427.9,254.3 L428.9,254.2 L429.9,254.1 L430.9,254.0 L431.9,254.0 L432.9,253.9 L433.9,253.8 L434.8,253.7 L435.8,253.6 L436.8,253.5 L437.8,253.4 L438.8,253.2 L439.7,253.1 L440.7,253.0 L441.7,252.8 L442.7,252.7 L443.6,252.5 L444.6,252.3 L445.6,252.1 L446.6,251.9 L447.5,251.7 L448.5,251.5 L449.5,251.3 L450.4,251.1 L451.4,250.9 L452.3,250.6 L453.3,250.4 L454.3,250.1 L455.2,249.8 L456.2,249.6 L457.1,249.3 L458.1,249.0 L459.0,248.7 L460.0,248.4 L461.0,248.1 L461.9,247.7 L462.9,247.4 L463.8,247.1 L464.8,246.7 L465.7,246.4 L466.7,246.0 L467.7,245.7 L468.6,245.4 L469.6,245.0 L470.6,244.7 L471.5,244.4 L472.5,244.1 L473.4,243.8 L474.4,243.6 L475.4,243.3 L476.4,243.1 L477.3,242.9 L478.3,242.7 L479.3,242.5 L480.3,242.4 L481.2,242.3 L482.2,242.2 L483.2,242.1 L484.2,242.0 L485.1,242.0 L486.1,242.0 L487.1,242.0 L488.0,242.0 L489.0,242.1 L490.0,242.2 L490.9,242.3 L491.9,242.4 L492.8,242.5 L493.8,242.7 L494.7,242.9 L495.6,243.2 L496.6,243.4 L497.5,243.7 L498.4,244.0 L499.3,244.4 L500.2,244.8 L501.1,245.2 L501.9,245.6 L502.8,246.1 L503.7,246.5 L504.5,247.1 L505.3,247.6 L506.2,248.1 L507.0,248.7 L507.8,249.3 L508.7,249.9 L509.5,250.5 L510.3,251.2 L511.1,251.8 L511.9,252.4 L512.7,253.0 L513.5,253.7 L514.3,254.3 L515.2,254.9 L516.0,255.5 L516.8,256.1 L517.6,256.7 L518.5,257.2 L519.3,257.8 L520.1,258.3 L521.0,258.8 L521.8,259.3 L522.7,259.7 L523.6,260.2 L524.4,260.6 L525.3,261.0 L526.2,261.4 L527.1,261.7 L528.0,262.0 L528.9,262.3 L529.8,262.6 L530.8,262.9 L531.7,263.1 L532.7,263.3 L533.6,263.4 L534.6,263.6 L535.5,263.7 L536.5,263.8 L537.5,263.9 L538.5,264.0 L539.5,264.1 L540.4,264.1 L541.4,264.1 L542.4,264.2 L543.4,264.2 L544.4,264.2 L545.5,264.2 L546.5,264.2 L547.5,264.2 L548.5,264.1 L549.5,264.1 L550.5,264.1 L551.5,264.1 L552.5,264.0 L553.5,264.0 L554.5,264.0 L555.5,263.9 L556.6,263.9 L557.6,263.8 L558.6,263.8 L559.6,263.8 L560.6,263.7 L561.6,263.7 L562.6,263.7 L563.6,263.7 L564.6,263.6 L565.6,263.6 L566.6,263.6 L567.6,263.6 L568.6,263.6 L569.6,263.6 L570.6,263.5 L571.6,263.5 L572.6,263.5 L573.6,263.5 L574.6,263.5 L575.6,263.5 L576.6,263.5 L577.6,263.5 L578.6,263.5 L579.6,263.5 L580.6,263.5 L581.6,263.5 L582.6,263.5 L583.6,263.5 L584.6,263.5 L585.6,263.6 L586.6,263.6 L587.6,263.6 L588.6,263.6 L589.6,263.6 L590.5,263.6 L591.5,263.6 L592.5,263.6 L593.5,263.6 L594.5,263.6 L595.5,263.7 L596.5,263.7 L597.5,263.7 L598.5,263.7 L599.5,263.7 L600.5,263.7 L601.5,263.7 L602.5,263.7 L603.5,263.8 L604.5,263.8 L605.4,263.8 L606.4,263.8 L607.4,263.8 L608.4,263.8 L609.4,263.8 L610.4,263.8 L611.4,263.8 L612.4,263.8 L613.4,263.8 L614.4,263.8 L615.4,263.8 L616.4,263.8 L617.4,263.8 L618.4,263.8 L619.4,263.8 L620.4,263.8 L621.4,263.8 L622.4,263.8 L623.4,263.8 L624.4,263.8 L625.4,263.7 L626.4,263.7 L627.4,263.7 L628.4,263.7 L629.4,263.7 L630.4,263.6 L631.4,263.6 L632.5,263.6 L633.5,263.5" fill="none" stroke="#e2b14c" stroke-width="1.3" stroke-linejoin="round"/>
<path d="M371.1,254.9 L372.1,254.8 L373.1,254.7 L374.1,254.7 L375.0,254.6 L376.0,254.5 L377.0,254.5 L378.0,254.4 L378.9,254.4 L379.9,254.4 L380.9,254.3 L381.9,254.3 L382.9,254.3 L383.9,254.2 L384.9,254.2 L385.9,254.2 L386.9,254.2 L387.9,254.2 L388.9,254.2 L389.9,254.2 L390.9,254.2 L391.9,254.1 L392.9,254.1 L393.9,254.1 L394.9,254.1 L395.9,254.1 L396.9,254.1 L397.9,254.1 L398.9,254.1 L399.9,254.1 L400.9,254.1 L401.9,254.1 L402.9,254.1 L403.9,254.1 L404.9,254.1 L405.9,254.1 L407.0,254.1 L408.0,254.1 L409.0,254.0 L410.0,254.0 L411.0,254.0 L412.0,254.0 L413.0,253.9 L414.0,253.9 L415.0,253.8 L416.0,253.8 L417.0,253.7 L418.0,253.7 L419.0,253.6 L420.0,253.6 L421.0,253.5 L422.0,253.4 L423.0,253.3 L424.0,253.2 L425.0,253.1 L426.0,253.0 L426.9,252.9 L427.9,252.8 L428.9,252.6 L429.9,252.5 L430.9,252.3 L431.9,252.2 L432.8,252.0 L433.8,251.8 L434.8,251.7 L435.7,251.5 L436.7,251.3 L437.7,251.0 L438.6,250.8 L439.6,250.6 L440.6,250.3 L441.5,250.1 L442.5,249.8 L443.4,249.5 L444.3,249.2 L445.3,248.9 L446.2,248.6 L447.2,248.2 L448.1,247.9 L449.0,247.5 L449.9,247.2 L450.9,246.8 L451.8,246.4 L452.7,246.0 L453.6,245.6 L454.5,245.1 L455.4,244.7 L456.2,244.2 L457.1,243.8 L458.0,243.3 L458.9,242.8 L459.7,242.3 L460.6,241.8 L461.4,241.3 L462.2,240.7 L463.1,240.2 L463.9,239.6 L464.7,239.1 L465.5,238.5 L466.3,237.9 L467.0,237.3 L467.8,236.7 L468.6,236.1 L469.4,235.5 L470.1,234.8 L470.9,234.2 L471.7,233.6 L472.4,232.9 L473.2,232.3 L474.0,231.7 L474.7,231.0 L475.5,230.4 L476.3,229.8 L477.1,229.1 L477.9,228.5 L478.7,227.9 L479.5,227.3 L480.4,226.7 L481.2,226.1 L482.1,225.5 L482.9,224.9 L483.8,224.4 L484.7,223.8 L485.6,223.3 L486.5,222.8 L487.4,222.4 L488.3,221.9 L489.2,221.5 L490.2,221.2 L491.1,220.9 L492.1,220.6 L493.0,220.4 L494.0,220.2 L494.9,220.0 L495.9,220.0 L496.8,219.9 L497.8,220.0 L498.7,220.1 L499.6,220.2 L500.5,220.5 L501.4,220.8 L502.2,221.2 L503.0,221.6 L503.7,222.2 L504.5,222.8 L505.1,223.5 L505.7,224.3 L506.3,225.1 L506.9,226.0 L507.4,227.0 L507.9,227.9 L508.3,228.9 L508.8,229.9 L509.2,230.9 L509.6,231.8 L510.0,232.7 L510.4,233.6 L510.8,234.5 L511.2,235.3 L511.6,236.2 L512.0,237.0 L512.4,237.9 L512.7,238.7 L513.1,239.6 L513.5,240.5 L513.9,241.4 L514.3,242.4 L514.7,243.3 L515.1,244.3 L515.5,245.2 L515.9,246.2 L516.4,247.2 L516.8,248.1 L517.3,249.1 L517.8,250.1 L518.2,251.0 L518.8,251.9 L519.3,252.8 L519.8,253.7 L520.4,254.5 L521.0,255.3 L521.6,256.1 L522.3,256.9 L522.9,257.6 L523.6,258.2 L524.3,258.8 L525.1,259.4 L525.8,259.9 L526.6,260.4 L527.4,260.9 L528.2,261.3 L529.1,261.7 L529.9,262.1 L530.8,262.5 L531.7,262.8 L532.6,263.1 L533.5,263.3 L534.5,263.6 L535.4,263.8 L536.4,264.0 L537.3,264.1 L538.3,264.3 L539.3,264.4 L540.3,264.5 L541.3,264.6 L542.3,264.7 L543.3,264.8 L544.3,264.9 L545.4,264.9 L546.4,265.0 L547.4,265.0 L548.4,265.0 L549.5,265.0 L550.5,265.1 L551.5,265.1 L552.6,265.1 L553.6,265.1 L554.6,265.1 L555.6,265.1 L556.6,265.1 L557.7,265.1 L558.7,265.1 L559.7,265.1 L560.7,265.1 L561.7,265.1 L562.7,265.1 L563.7,265.1 L564.7,265.1 L565.7,265.1 L566.7,265.1 L567.7,265.1 L568.7,265.1 L569.7,265.1 L570.7,265.1 L571.6,265.1 L572.6,265.1 L573.6,265.1 L574.6,265.1 L575.6,265.1 L576.6,265.1 L577.6,265.1 L578.5,265.1 L579.5,265.1 L580.5,265.1 L581.5,265.1 L582.5,265.1 L583.5,265.1 L584.5,265.1 L585.4,265.1 L586.4,265.1 L587.4,265.1 L588.4,265.1 L589.4,265.1 L590.4,265.1 L591.4,265.1 L592.4,265.1 L593.4,265.1 L594.4,265.1 L595.4,265.1 L596.4,265.1 L597.4,265.1 L598.4,265.1 L599.4,265.1 L600.4,265.1 L601.4,265.1 L602.4,265.1 L603.4,265.1 L604.4,265.1 L605.4,265.1 L606.4,265.1 L607.4,265.1 L608.4,265.1 L609.4,265.1 L610.4,265.2 L611.5,265.2 L612.5,265.2 L613.5,265.2 L614.5,265.2 L615.5,265.2 L616.5,265.2 L617.5,265.2 L618.5,265.2 L619.5,265.2 L620.5,265.2 L621.5,265.2 L622.5,265.2 L623.5,265.2 L624.5,265.2 L625.5,265.2 L626.5,265.2 L627.5,265.2 L628.4,265.2 L629.4,265.2 L630.4,265.2 L631.4,265.2 L632.3,265.2 L633.3,265.2" fill="none" stroke="#62b88a" stroke-width="1.3" stroke-linejoin="round"/>
<path d="M371.0,259.0 L372.0,259.0 L373.0,259.0 L374.0,258.9 L375.0,258.9 L376.0,258.9 L377.0,258.9 L378.0,258.9 L379.0,258.9 L380.0,258.9 L381.0,258.8 L382.0,258.8 L383.0,258.8 L384.0,258.8 L385.0,258.8 L386.0,258.8 L386.9,258.8 L387.9,258.8 L388.9,258.8 L389.9,258.8 L390.9,258.8 L391.9,258.8 L392.9,258.8 L393.9,258.8 L394.9,258.8 L395.9,258.8 L396.9,258.9 L397.9,258.9 L398.9,258.9 L399.9,258.9 L400.9,258.9 L401.9,258.9 L402.9,258.9 L403.9,258.9 L404.9,258.9 L405.9,258.9 L406.9,258.9 L407.9,258.9 L408.9,258.9 L409.9,258.9 L410.8,258.9 L411.8,258.9 L412.8,258.9 L413.8,258.9 L414.8,258.9 L415.8,258.9 L416.8,258.9 L417.8,258.9 L418.8,258.9 L419.8,258.9 L420.8,258.9 L421.8,258.9 L422.8,258.9 L423.8,258.9 L424.8,258.9 L425.8,258.9 L426.8,258.8 L427.8,258.8 L428.8,258.8 L429.8,258.8 L430.8,258.7 L431.8,258.7 L432.8,258.7 L433.8,258.7 L434.7,258.6 L435.7,258.6 L436.7,258.5 L437.7,258.5 L438.7,258.4 L439.7,258.4 L440.7,258.3 L441.7,258.3 L442.7,258.2 L443.7,258.2 L444.7,258.1 L445.7,258.1 L446.7,258.0 L447.7,257.9 L448.7,257.9 L449.7,257.8 L450.7,257.7 L451.7,257.7 L452.7,257.6 L453.7,257.5 L454.7,257.5 L455.7,257.4 L456.7,257.3 L457.7,257.3 L458.7,257.2 L459.7,257.2 L460.7,257.1 L461.7,257.1 L462.7,257.0 L463.7,257.0 L464.6,256.9 L465.6,256.9 L466.6,256.9 L467.6,256.9 L468.6,256.8 L469.6,256.8 L470.6,256.8 L471.6,256.8 L472.6,256.8 L473.6,256.8 L474.6,256.8 L475.6,256.8 L476.6,256.8 L477.6,256.9 L478.5,256.9 L479.5,256.9 L480.5,257.0 L481.5,257.0 L482.5,257.1 L483.5,257.2 L484.5,257.3 L485.5,257.3 L486.5,257.4 L487.4,257.6 L488.4,257.7 L489.4,257.8 L490.4,257.9 L491.4,258.1 L492.4,258.2 L493.3,258.3 L494.3,258.5 L495.3,258.6 L496.3,258.8 L497.3,258.9 L498.3,259.1 L499.2,259.3 L500.2,259.4 L501.2,259.6 L502.2,259.7 L503.2,259.9 L504.2,260.0 L505.2,260.1 L506.1,260.3 L507.1,260.4 L508.1,260.5 L509.1,260.7 L510.1,260.8 L511.1,260.9 L512.1,261.1 L513.0,261.2 L514.0,261.3 L515.0,261.4 L516.0,261.5 L517.0,261.6 L518.0,261.8 L519.0,261.9 L520.0,262.0 L520.9,262.1 L521.9,262.2 L522.9,262.3 L523.9,262.4 L524.9,262.5 L525.9,262.6 L526.9,262.6 L527.9,262.7 L528.9,262.8 L529.9,262.9 L530.8,263.0 L531.8,263.1 L532.8,263.1 L533.8,263.2 L534.8,263.3 L535.8,263.3 L536.8,263.4 L537.8,263.5 L538.8,263.5 L539.8,263.6 L540.8,263.7 L541.8,263.7 L542.7,263.8 L543.7,263.8 L544.7,263.9 L545.7,263.9 L546.7,264.0 L547.7,264.0 L548.7,264.0 L549.7,264.1 L550.7,264.1 L551.7,264.1 L552.7,264.2 L553.7,264.2 L554.7,264.2 L555.7,264.3 L556.7,264.3 L557.7,264.3 L558.7,264.3 L559.7,264.3 L560.7,264.4 L561.6,264.4 L562.6,264.4 L563.6,264.4 L564.6,264.4 L565.6,264.4 L566.6,264.4 L567.6,264.4 L568.6,264.4 L569.6,264.4 L570.6,264.4 L571.6,264.4 L572.6,264.4 L573.6,264.4 L574.6,264.4 L575.6,264.4 L576.6,264.4 L577.6,264.4 L578.6,264.4 L579.6,264.3 L580.6,264.3 L581.6,264.3 L582.6,264.3 L583.6,264.3 L584.6,264.3 L585.6,264.3 L586.6,264.2 L587.6,264.2 L588.6,264.2 L589.6,264.2 L590.6,264.2 L591.6,264.1 L592.6,264.1 L593.5,264.1 L594.5,264.1 L595.5,264.1 L596.5,264.1 L597.5,264.0 L598.5,264.0 L599.5,264.0 L600.5,264.0 L601.5,264.0 L602.5,264.0 L603.5,264.0 L604.5,264.0 L605.5,264.0 L606.5,263.9 L607.5,263.9 L608.5,263.9 L609.5,263.9 L610.5,263.9 L611.5,263.9 L612.5,263.9 L613.5,263.9 L614.5,263.9 L615.5,263.9 L616.5,264.0 L617.5,264.0 L618.5,264.0 L619.5,264.0 L620.5,264.0 L621.5,264.0 L622.4,264.1 L623.4,264.1 L624.4,264.1 L625.4,264.1 L626.4,264.2 L627.4,264.2 L628.4,264.3 L629.4,264.3 L630.4,264.3 L631.4,264.4 L632.4,264.4 L633.4,264.5" fill="none" stroke="#3fd3d8" stroke-width="1.3" stroke-linejoin="round"/>
<path d="M371.1,251.7 L372.1,251.5 L373.0,251.3 L374.0,251.2 L375.0,251.0 L375.9,250.8 L376.9,250.7 L377.9,250.5 L378.9,250.4 L379.8,250.3 L380.8,250.1 L381.8,250.0 L382.8,249.9 L383.8,249.7 L384.8,249.6 L385.8,249.5 L386.8,249.4 L387.8,249.3 L388.8,249.2 L389.7,249.0 L390.7,248.9 L391.7,248.8 L392.7,248.7 L393.8,248.6 L394.8,248.5 L395.8,248.4 L396.8,248.2 L397.8,248.1 L398.8,248.0 L399.8,247.9 L400.8,247.7 L401.8,247.6 L402.7,247.5 L403.7,247.3 L404.7,247.2 L405.7,247.0 L406.7,246.8 L407.7,246.7 L408.7,246.5 L409.7,246.3 L410.7,246.1 L411.6,245.9 L412.6,245.7 L413.6,245.5 L414.6,245.2 L415.5,245.0 L416.5,244.7 L417.4,244.5 L418.4,244.2 L419.3,243.9 L420.3,243.6 L421.2,243.3 L422.2,243.0 L423.1,242.6 L424.0,242.3 L425.0,241.9 L425.9,241.6 L426.8,241.2 L427.7,240.8 L428.6,240.4 L429.5,240.0 L430.4,239.5 L431.3,239.1 L432.2,238.7 L433.1,238.2 L433.9,237.7 L434.8,237.3 L435.7,236.8 L436.5,236.3 L437.4,235.8 L438.2,235.3 L439.1,234.7 L439.9,234.2 L440.8,233.7 L441.6,233.1 L442.4,232.5 L443.2,232.0 L444.0,231.4 L444.8,230.8 L445.6,230.2 L446.4,229.6 L447.2,229.0 L448.0,228.4 L448.7,227.7 L449.5,227.1 L450.3,226.4 L451.0,225.8 L451.8,225.1 L452.5,224.4 L453.2,223.8 L453.9,223.1 L454.7,222.4 L455.4,221.7 L456.1,221.0 L456.8,220.2 L457.5,219.5 L458.1,218.8 L458.8,218.1 L459.5,217.3 L460.2,216.6 L460.8,215.8 L461.5,215.1 L462.1,214.3 L462.8,213.5 L463.4,212.8 L464.1,212.0 L464.8,211.3 L465.4,210.5 L466.1,209.7 L466.7,209.0 L467.4,208.2 L468.1,207.5 L468.7,206.7 L469.4,206.0 L470.1,205.3 L470.8,204.5 L471.5,203.8 L472.2,203.1 L472.9,202.4 L473.6,201.7 L474.3,201.0 L475.0,200.3 L475.8,199.6 L476.5,198.9 L477.2,198.2 L477.9,197.5 L478.6,196.8 L479.3,196.1 L480.0,195.4 L480.7,194.7 L481.4,194.0 L482.0,193.2 L482.7,192.5 L483.3,191.7 L483.9,191.0 L484.4,190.2 L485.0,189.4 L485.5,188.6 L486.0,187.7 L486.5,186.9 L486.9,186.0 L487.3,185.1 L487.8,184.2 L488.2,183.3 L488.6,182.4 L489.0,181.5 L489.4,180.5 L489.9,179.6 L490.3,178.6 L490.8,177.6 L491.3,176.7 L491.8,175.7 L492.4,174.7 L492.9,173.8 L493.6,172.9 L494.2,172.0 L494.9,171.2 L495.5,170.5 L496.3,169.8 L497.0,169.2 L497.8,168.7 L498.5,168.3 L499.3,168.1 L500.1,167.9 L500.9,167.8 L501.7,167.9 L502.4,168.1 L503.2,168.4 L503.8,168.8 L504.5,169.3 L505.0,169.9 L505.5,170.6 L506.0,171.4 L506.5,172.3 L506.9,173.2 L507.3,174.1 L507.6,175.1 L508.0,176.1 L508.3,177.0 L508.6,178.0 L508.9,179.0 L509.2,180.0 L509.5,181.0 L509.8,181.9 L510.0,182.9 L510.3,183.9 L510.5,184.9 L510.8,185.9 L511.0,186.8 L511.2,187.8 L511.4,188.8 L511.6,189.8 L511.8,190.8 L512.0,191.8 L512.1,192.8 L512.3,193.8 L512.5,194.7 L512.6,195.7 L512.8,196.7 L512.9,197.7 L513.1,198.7 L513.2,199.7 L513.4,200.7 L513.5,201.7 L513.7,202.7 L513.8,203.7 L513.9,204.6 L514.1,205.6 L514.2,206.6 L514.3,207.6 L514.5,208.6 L514.6,209.6 L514.7,210.6 L514.9,211.6 L515.0,212.5 L515.2,213.5 L515.3,214.5 L515.5,215.5 L515.6,216.5 L515.8,217.5 L516.0,218.4 L516.1,219.4 L516.3,220.4 L516.5,221.4 L516.7,222.3 L516.9,223.3 L517.1,224.3 L517.3,225.3 L517.6,226.2 L517.8,227.2 L518.0,228.2 L518.3,229.1 L518.5,230.1 L518.8,231.1 L519.0,232.0 L519.3,233.0 L519.5,234.0 L519.8,234.9 L520.1,235.9 L520.3,236.9 L520.6,237.8 L520.9,238.8 L521.2,239.8 L521.5,240.7 L521.7,241.7 L522.0,242.7 L522.3,243.6 L522.6,244.6 L522.9,245.6 L523.2,246.5 L523.5,247.5 L523.9,248.4 L524.2,249.4 L524.6,250.3 L525.1,251.2 L525.5,252.0 L526.0,252.9 L526.5,253.7 L527.1,254.4 L527.8,255.2 L528.4,255.9 L529.1,256.6 L529.9,257.2 L530.7,257.8 L531.5,258.4 L532.3,258.9 L533.2,259.4 L534.0,259.8 L534.9,260.3 L535.8,260.6 L536.7,260.9 L537.6,261.2 L538.6,261.5 L539.5,261.7 L540.5,261.9 L541.4,262.1 L542.4,262.3 L543.4,262.4 L544.4,262.5 L545.4,262.6 L546.4,262.6 L547.4,262.7 L548.4,262.7 L549.4,262.7 L550.4,262.7 L551.4,262.7 L552.5,262.7 L553.5,262.7 L554.5,262.7 L555.5,262.6 L556.5,262.6 L557.6,262.6 L558.6,262.6 L559.6,262.5 L560.6,262.5 L561.6,262.5 L562.6,262.5 L563.6,262.5 L564.6,262.5 L565.6,262.5 L566.6,262.5 L567.6,262.5 L568.6,262.5 L569.6,262.5 L570.6,262.5 L571.6,262.6 L572.6,262.6 L573.5,262.6 L574.5,262.6 L575.5,262.6 L576.5,262.6 L577.5,262.6 L578.5,262.7 L579.5,262.7 L580.5,262.7 L581.5,262.7 L582.5,262.7 L583.4,262.7 L584.4,262.7 L585.4,262.7 L586.4,262.7 L587.4,262.7 L588.4,262.7 L589.4,262.8 L590.4,262.8 L591.4,262.8 L592.4,262.8 L593.4,262.8 L594.4,262.8 L595.4,262.8 L596.4,262.8 L597.4,262.8 L598.4,262.8 L599.4,262.8 L600.4,262.8 L601.4,262.8 L602.4,262.8 L603.4,262.7 L604.4,262.7 L605.4,262.7 L606.4,262.7 L607.4,262.7 L608.4,262.7 L609.4,262.7 L610.5,262.7 L611.5,262.7 L612.5,262.7 L613.5,262.7 L614.5,262.7 L615.5,262.7 L616.5,262.7 L617.5,262.7 L618.5,262.7 L619.5,262.7 L620.5,262.7 L621.5,262.7 L622.4,262.7 L623.4,262.7 L624.4,262.7 L625.4,262.8 L626.4,262.8 L627.4,262.8 L628.4,262.8 L629.4,262.8 L630.4,262.8 L631.4,262.8 L632.4,262.8 L633.4,262.8" fill="none" stroke="#3f8fe8" stroke-width="1.3" stroke-linejoin="round"/>
<path d="M371.4,242.5 L372.3,242.5 L373.3,242.4 L374.2,242.4 L375.1,242.4 L376.0,242.4 L377.0,242.3 L377.9,242.2 L378.9,242.2 L379.8,242.1 L380.8,242.0 L381.7,241.9 L382.7,241.8 L383.7,241.7 L384.6,241.5 L385.6,241.4 L386.6,241.2 L387.6,241.1 L388.5,240.9 L389.5,240.7 L390.5,240.5 L391.5,240.3 L392.4,240.1 L393.4,239.9 L394.4,239.7 L395.4,239.4 L396.4,239.2 L397.3,238.9 L398.3,238.7 L399.3,238.4 L400.3,238.1 L401.2,237.8 L402.2,237.5 L403.2,237.1 L404.1,236.8 L405.1,236.5 L406.1,236.1 L407.0,235.8 L408.0,235.4 L408.9,235.0 L409.9,234.6 L410.8,234.2 L411.7,233.8 L412.7,233.4 L413.6,233.0 L414.5,232.5 L415.4,232.1 L416.4,231.6 L417.3,231.2 L418.2,230.7 L419.0,230.2 L419.9,229.7 L420.8,229.2 L421.7,228.7 L422.5,228.1 L423.4,227.6 L424.2,227.1 L425.1,226.5 L425.9,225.9 L426.7,225.4 L427.6,224.8 L428.4,224.2 L429.2,223.6 L429.9,223.0 L430.7,222.4 L431.5,221.7 L432.2,221.1 L433.0,220.4 L433.7,219.8 L434.4,219.1 L435.1,218.4 L435.8,217.7 L436.5,217.0 L437.2,216.3 L437.8,215.6 L438.5,214.9 L439.1,214.2 L439.8,213.4 L440.4,212.7 L441.0,211.9 L441.6,211.1 L442.2,210.4 L442.8,209.6 L443.3,208.8 L443.9,208.0 L444.4,207.2 L445.0,206.4 L445.5,205.6 L446.1,204.7 L446.6,203.9 L447.1,203.1 L447.6,202.2 L448.1,201.4 L448.6,200.5 L449.0,199.6 L449.5,198.8 L450.0,197.9 L450.4,197.0 L450.9,196.2 L451.3,195.3 L451.8,194.4 L452.2,193.5 L452.7,192.6 L453.1,191.7 L453.5,190.8 L453.9,189.9 L454.3,188.9 L454.7,188.0 L455.1,187.1 L455.5,186.2 L455.9,185.2 L456.3,184.3 L456.7,183.4 L457.1,182.4 L457.4,181.5 L457.8,180.6 L458.2,179.6 L458.6,178.7 L458.9,177.7 L459.3,176.8 L459.7,175.8 L460.0,174.9 L460.4,173.9 L460.7,173.0 L461.1,172.0 L461.5,171.1 L461.8,170.1 L462.2,169.2 L462.5,168.2 L462.9,167.3 L463.2,166.3 L463.6,165.4 L463.9,164.4 L464.3,163.5 L464.6,162.5 L465.0,161.6 L465.4,160.7 L465.7,159.7 L466.1,158.8 L466.4,157.8 L466.8,156.9 L467.2,156.0 L467.6,155.0 L467.9,154.1 L468.3,153.2 L468.7,152.2 L469.1,151.3 L469.4,150.4 L469.8,149.5 L470.2,148.6 L470.6,147.7 L471.0,146.8 L471.4,145.8 L471.8,144.9 L472.2,144.0 L472.5,143.1 L472.9,142.2 L473.3,141.3 L473.7,140.4 L474.1,139.5 L474.5,138.6 L474.9,137.7 L475.3,136.8 L475.6,135.9 L476.0,135.0 L476.4,134.1 L476.8,133.1 L477.2,132.2 L477.5,131.3 L477.9,130.4 L478.2,129.5 L478.6,128.6 L479.0,127.7 L479.3,126.7 L479.7,125.8 L480.0,124.9 L480.3,124.0 L480.7,123.0 L481.0,122.1 L481.3,121.2 L481.6,120.2 L481.9,119.3 L482.2,118.3 L482.5,117.4 L482.8,116.4 L483.1,115.5 L483.4,114.5 L483.6,113.5 L483.9,112.6 L484.2,111.6 L484.4,110.6 L484.7,109.6 L484.9,108.7 L485.2,107.7 L485.4,106.7 L485.7,105.7 L485.9,104.7 L486.1,103.8 L486.4,102.8 L486.6,101.8 L486.8,100.8 L487.0,99.8 L487.2,98.8 L487.5,97.8 L487.7,96.8 L487.9,95.9 L488.1,94.9 L488.3,93.9 L488.5,92.9 L488.7,91.9 L489.0,90.9 L489.2,89.9 L489.4,89.0 L489.6,88.0 L489.8,87.0 L490.0,86.0 L490.2,85.0 L490.4,84.1 L490.6,83.1 L490.8,82.1 L491.1,81.1 L491.3,80.2 L491.5,79.2 L491.7,78.2 L491.9,77.3 L492.1,76.3 L492.4,75.4 L492.6,74.4 L492.8,73.4 L493.0,72.5 L493.2,71.5 L493.4,70.5 L493.7,69.6 L493.9,68.6 L494.1,67.7 L494.3,66.7 L494.5,65.7 L494.7,64.8 L494.9,63.8 L495.1,62.8 L495.3,61.8 L495.5,60.9 L495.7,59.9 L495.9,58.9 L496.1,57.9 L496.3,56.9 L496.5,55.9 L496.6,54.9 L496.8,54.0 L497.0,53.0 L497.2,51.9 L497.3,50.9 L497.5,49.9 L497.6,48.9 L497.8,47.9 L498.0,46.9 L498.1,45.8 L498.3,44.8 L498.5,43.8 L498.7,42.8 L499.0,41.8 L499.4,40.9 L499.8,40.0 L500.3,39.1 L500.9,38.3 L501.5,37.6 L502.3,37.0 L503.0,36.6 L503.7,36.6 L504.3,37.0 L504.9,37.7 L505.4,38.5 L505.9,39.3 L506.3,40.2 L506.7,41.1 L507.1,42.0 L507.4,42.9 L507.7,43.8 L508.0,44.8 L508.3,45.7 L508.5,46.7 L508.7,47.6 L508.9,48.6 L509.0,49.6 L509.2,50.6 L509.3,51.6 L509.5,52.6 L509.6,53.6 L509.7,54.6 L509.8,55.6 L510.0,56.6 L510.1,57.6 L510.2,58.6 L510.3,59.6 L510.4,60.6 L510.5,61.6 L510.6,62.6 L510.8,63.6 L510.9,64.6 L511.0,65.6 L511.1,66.6 L511.2,67.6 L511.3,68.6 L511.5,69.6 L511.6,70.6 L511.7,71.6 L511.8,72.6 L511.9,73.6 L512.0,74.6 L512.1,75.6 L512.3,76.6 L512.4,77.6 L512.5,78.6 L512.6,79.6 L512.7,80.6 L512.8,81.6 L512.9,82.6 L513.0,83.6 L513.2,84.6 L513.3,85.6 L513.4,86.5 L513.5,87.5 L513.6,88.5 L513.7,89.5 L513.8,90.5 L513.9,91.5 L514.0,92.5 L514.1,93.5 L514.2,94.5 L514.3,95.5 L514.4,96.5 L514.5,97.5 L514.7,98.4 L514.8,99.4 L514.9,100.4 L515.0,101.4 L515.1,102.4 L515.2,103.4 L515.3,104.4 L515.3,105.4 L515.4,106.4 L515.5,107.4 L515.6,108.4 L515.7,109.4 L515.8,110.3 L515.9,111.3 L516.0,112.3 L516.1,113.3 L516.2,114.3 L516.3,115.3 L516.4,116.3 L516.4,117.3 L516.5,118.3 L516.6,119.3 L516.7,120.3 L516.8,121.3 L516.9,122.3 L516.9,123.3 L517.0,124.2 L517.1,125.2 L517.2,126.2 L517.3,127.2 L517.3,128.2 L517.4,129.2 L517.5,130.2 L517.5,131.2 L517.6,132.2 L517.7,133.2 L517.7,134.2 L517.8,135.2 L517.9,136.2 L517.9,137.2 L518.0,138.2 L518.1,139.2 L518.1,140.2 L518.2,141.2 L518.2,142.2 L518.3,143.2 L518.3,144.2 L518.4,145.2 L518.5,146.2 L518.5,147.2 L518.6,148.2 L518.6,149.2 L518.7,150.2 L518.7,151.2 L518.8,152.2 L518.8,153.2 L518.9,154.2 L518.9,155.2 L519.0,156.2 L519.1,157.2 L519.1,158.2 L519.2,159.2 L519.2,160.3 L519.3,161.3 L519.3,162.3 L519.4,163.3 L519.4,164.3 L519.5,165.3 L519.6,166.3 L519.6,167.3 L519.7,168.3 L519.8,169.3 L519.8,170.3 L519.9,171.3 L519.9,172.3 L520.0,173.3 L520.1,174.3 L520.2,175.3 L520.2,176.3 L520.3,177.3 L520.4,178.3 L520.5,179.3 L520.5,180.3 L520.6,181.3 L520.7,182.2 L520.8,183.2 L520.9,184.2 L521.0,185.2 L521.1,186.2 L521.2,187.2 L521.3,188.2 L521.4,189.2 L521.5,190.2 L521.6,191.2 L521.7,192.2 L521.8,193.2 L521.9,194.2 L522.0,195.1 L522.1,196.1 L522.3,197.1 L522.4,198.1 L522.5,199.1 L522.7,200.1 L522.8,201.0 L522.9,202.0 L523.1,203.0 L523.2,204.0 L523.4,205.0 L523.5,205.9 L523.7,206.9 L523.8,207.9 L524.0,208.9 L524.2,209.8 L524.3,210.8 L524.5,211.8 L524.7,212.8 L524.9,213.7 L525.1,214.7 L525.3,215.7 L525.5,216.6 L525.7,217.6 L525.9,218.6 L526.1,219.6 L526.3,220.5 L526.5,221.5 L526.7,222.5 L526.9,223.4 L527.2,224.4 L527.4,225.4 L527.6,226.4 L527.9,227.3 L528.1,228.3 L528.4,229.3 L528.6,230.3 L528.9,231.3 L529.1,232.2 L529.4,233.2 L529.6,234.2 L529.9,235.2 L530.2,236.2 L530.4,237.2 L530.7,238.2 L531.0,239.2 L531.3,240.2 L531.6,241.2 L531.9,242.2 L532.2,243.2 L532.5,244.2 L532.8,245.2 L533.1,246.2 L533.5,247.1 L533.8,248.1 L534.2,249.0 L534.6,249.9 L535.0,250.8 L535.5,251.7 L536.0,252.5 L536.5,253.3 L537.0,254.0 L537.6,254.8 L538.2,255.5 L538.9,256.1 L539.6,256.7 L540.3,257.2 L541.1,257.7 L541.9,258.2 L542.7,258.6 L543.6,259.0 L544.5,259.3 L545.4,259.6 L546.3,259.9 L547.3,260.1 L548.3,260.3 L549.3,260.5 L550.3,260.7 L551.3,260.8 L552.3,260.9 L553.4,261.0 L554.4,261.1 L555.4,261.1 L556.5,261.2 L557.5,261.2 L558.5,261.2 L559.5,261.2 L560.5,261.2 L561.5,261.2 L562.5,261.2 L563.5,261.2 L564.5,261.2 L565.5,261.2 L566.5,261.2 L567.5,261.1 L568.5,261.1 L569.5,261.1 L570.5,261.0 L571.4,261.0 L572.4,261.0 L573.4,261.0 L574.4,260.9 L575.4,260.9 L576.4,260.9 L577.4,260.9 L578.4,260.9 L579.4,260.9 L580.4,260.9 L581.4,260.9 L582.4,260.9 L583.4,260.9 L584.4,260.9 L585.4,260.9 L586.4,260.9 L587.4,260.9 L588.4,260.9 L589.4,261.0 L590.4,261.0 L591.4,261.0 L592.4,261.0 L593.4,261.0 L594.4,261.0 L595.4,261.0 L596.4,261.0 L597.4,261.1 L598.4,261.1 L599.4,261.1 L600.4,261.1 L601.4,261.1 L602.4,261.1 L603.4,261.1 L604.4,261.1 L605.4,261.1 L606.4,261.1 L607.4,261.0 L608.4,261.0 L609.4,261.0 L610.4,261.0 L611.4,261.0 L612.4,261.0 L613.4,261.0 L614.4,261.0 L615.4,261.0 L616.4,261.0 L617.4,261.0 L618.4,261.0 L619.4,261.0 L620.4,261.0 L621.4,261.0 L622.4,261.0 L623.4,261.0 L624.4,261.0 L625.4,261.0 L626.4,261.0 L627.4,261.0 L628.4,261.0 L629.4,261.0 L630.4,261.0 L631.4,261.0 L632.4,261.0 L633.4,261.0" fill="none" stroke="#7a7a7a" stroke-width="1.3" stroke-linejoin="round"/>
<rect x="370.4" y="6.4" width="263.8" height="259.4" fill="none" stroke="#000" stroke-width="1.6"/>
<path d="M365.4,265.8H370.4M365.4,213.92H370.4M365.4,162.04H370.4M365.4,110.16H370.4M365.4,58.28H370.4M365.4,6.4H370.4M367.9,239.86H370.4M367.9,187.98H370.4M367.9,136.1H370.4M367.9,84.22H370.4M367.9,32.34H370.4" stroke="#000" stroke-width="1.5" fill="none"/>
<path d="M370.4,265.8V269.8M414.37,265.8V269.8M458.33,265.8V269.8M502.3,265.8V269.8M546.27,265.8V269.8M590.23,265.8V269.8M634.2,265.8V269.8M392.38,265.8V268.3M436.35,265.8V268.3M480.32,265.8V268.3M524.28,265.8V268.3M568.25,265.8V268.3M612.22,265.8V268.3" stroke="#000" stroke-width="1.5" fill="none"/>
<text transform="translate(361.9,269) scale(1.11,1)" x="0" y="0" text-anchor="end" style="font-family:'Liberation Sans',sans-serif;font-size:13.8px;font-weight:normal" fill="#404040" stroke="#404040" stroke-width="0.3">0.0</text>
<text transform="translate(361.9,217.12) scale(1.11,1)" x="0" y="0" text-anchor="end" style="font-family:'Liberation Sans',sans-serif;font-size:13.8px;font-weight:normal" fill="#404040" stroke="#404040" stroke-width="0.3">0.2</text>
<text transform="translate(361.9,165.24) scale(1.11,1)" x="0" y="0" text-anchor="end" style="font-family:'Liberation Sans',sans-serif;font-size:13.8px;font-weight:normal" fill="#404040" stroke="#404040" stroke-width="0.3">0.4</text>
<text transform="translate(361.9,113.36) scale(1.11,1)" x="0" y="0" text-anchor="end" style="font-family:'Liberation Sans',sans-serif;font-size:13.8px;font-weight:normal" fill="#404040" stroke="#404040" stroke-width="0.3">0.6</text>
<text transform="translate(361.9,61.48) scale(1.11,1)" x="0" y="0" text-anchor="end" style="font-family:'Liberation Sans',sans-serif;font-size:13.8px;font-weight:normal" fill="#404040" stroke="#404040" stroke-width="0.3">0.8</text>
<text transform="translate(361.9,9.6) scale(1.11,1)" x="0" y="0" text-anchor="end" style="font-family:'Liberation Sans',sans-serif;font-size:13.8px;font-weight:normal" fill="#404040" stroke="#404040" stroke-width="0.3">1.0</text>
<text transform="translate(370.4,284) scale(1.05,1)" x="0" y="0" text-anchor="middle" style="font-family:'Liberation Sans',sans-serif;font-size:13.5px;font-weight:normal" fill="#404040" stroke="#404040" stroke-width="0.3">400</text>
<text transform="translate(414.37,284) scale(1.05,1)" x="0" y="0" text-anchor="middle" style="font-family:'Liberation Sans',sans-serif;font-size:13.5px;font-weight:normal" fill="#404040" stroke="#404040" stroke-width="0.3">450</text>
<text transform="translate(458.33,284) scale(1.05,1)" x="0" y="0" text-anchor="middle" style="font-family:'Liberation Sans',sans-serif;font-size:13.5px;font-weight:normal" fill="#404040" stroke="#404040" stroke-width="0.3">500</text>
<text transform="translate(502.3,284) scale(1.05,1)" x="0" y="0" text-anchor="middle" style="font-family:'Liberation Sans',sans-serif;font-size:13.5px;font-weight:normal" fill="#404040" stroke="#404040" stroke-width="0.3">550</text>
<text transform="translate(546.27,284) scale(1.05,1)" x="0" y="0" text-anchor="middle" style="font-family:'Liberation Sans',sans-serif;font-size:13.5px;font-weight:normal" fill="#404040" stroke="#404040" stroke-width="0.3">600</text>
<text transform="translate(590.23,284) scale(1.05,1)" x="0" y="0" text-anchor="middle" style="font-family:'Liberation Sans',sans-serif;font-size:13.5px;font-weight:normal" fill="#404040" stroke="#404040" stroke-width="0.3">650</text>
<text transform="translate(634.2,284) scale(1.05,1)" x="0" y="0" text-anchor="middle" style="font-family:'Liberation Sans',sans-serif;font-size:13.5px;font-weight:normal" fill="#404040" stroke="#404040" stroke-width="0.3">700</text>
<text x="502.6" y="302.6" text-anchor="middle" style="font-family:'Liberation Sans',sans-serif;font-size:15px;font-weight:bold" fill="#000" textLength="133.5" lengthAdjust="spacingAndGlyphs">Wavelength (nm)</text>
<text transform="translate(332.3,133.5) rotate(-90)" x="0" y="0" text-anchor="middle" style="font-family:'Liberation Sans',sans-serif;font-size:14.5px;font-weight:bold" fill="#000" textLength="136.5" lengthAdjust="spacingAndGlyphs">Absorbance (a.u.)</text>
<text x="374.3" y="24.6" text-anchor="start" style="font-family:'Liberation Sans',sans-serif;font-size:18.5px;font-weight:bold" fill="#000" textLength="25" lengthAdjust="spacingAndGlyphs">(b)</text>
<path d="M574.2,46 H583.2 V182.8 H587.7 L578.7,234.9 L569.7,182.8 H574.2 Z" fill="url(#gb)"/>
<text x="580.6" y="43.7" text-anchor="middle" style="font-family:'Liberation Sans',sans-serif;font-size:11.5px;font-weight:bold" fill="#000" textLength="57.5" lengthAdjust="spacingAndGlyphs">0 minute</text>
<text x="580.9" y="245.2" text-anchor="middle" style="font-family:'Liberation Sans',sans-serif;font-size:11.5px;font-weight:bold" fill="#000" textLength="72.5" lengthAdjust="spacingAndGlyphs">180 minute</text>
<g clip-path="url(#clipc)">
<path d="M45,312.7 L84.96,315.31 L124.92,316.88 L164.88,319.49 L204.84,320.79 L244.8,322.1 L284.76,327.58" fill="none" stroke="#444" stroke-width="1.3" stroke-dasharray="1.2 2.2 1.2 2.2 1.2 2.2 1.2 6" opacity="1.0"/>
<path d="M45,312.7 L84.96,324.97 L124.92,338.28 L164.88,367.25 L204.84,398.31 L244.8,442.16 L284.76,458.34" fill="none" stroke="#d85858" stroke-width="1.2" stroke-dasharray="1.3 2.5 1.3 8" opacity="1.0"/>
<path d="M45,312.7 L84.96,334.36 L124.92,358.11 L164.88,397 L204.84,418.67 L244.8,452.86 L284.76,464.6" fill="none" stroke="#5577ee" stroke-width="1.2" stroke-dasharray="1.3 3 1.3 3 1.3 7" opacity="1.0"/>
<path d="M49.5,320.2 L50.5,321.8 M61.7,345.1 L70.3,359.2 M77.9,373.9 L81.2,378.7 M98.3,412 L104,421.4 M118.9,452 L122.6,457.1" stroke="#b088d8" stroke-width="1.1" fill="none"/>
<path d="M124.92,462.77 L164.88,495.4 L204.84,523.59 L244.8,552.82 L284.76,565.35" fill="none" stroke="#b088d8" stroke-width="1.2" stroke-dasharray="1.2 2.5 1.2 2.5 1.2 2.5 1.2 12" opacity="1.0"/>
</g>
<rect x="45" y="312.7" width="266.4" height="261" fill="none" stroke="#000" stroke-width="1.6"/>
<path d="M40.5,312.7H45M40.5,364.9H45M40.5,417.1H45M40.5,469.3H45M40.5,521.5H45M40.5,573.7H45M42.5,338.8H45M42.5,391H45M42.5,443.2H45M42.5,495.4H45M42.5,547.6H45" stroke="#000" stroke-width="1.5" fill="none"/>
<path d="M45,573.7V577.5M98.28,573.7V577.5M151.56,573.7V577.5M204.84,573.7V577.5M258.12,573.7V577.5M311.4,573.7V577.5M71.64,573.7V575.9M124.92,573.7V575.9M178.2,573.7V575.9M231.48,573.7V575.9M284.76,573.7V575.9" stroke="#000" stroke-width="1.5" fill="none"/>
<g clip-path="url(#clipc)">
<rect x="41.6" y="308.8" width="7.8" height="7.8" fill="#444444"/>
<rect x="81.56" y="311.41" width="7.8" height="7.8" fill="#444444"/>
<rect x="121.52" y="312.98" width="7.8" height="7.8" fill="#444444"/>
<rect x="161.48" y="315.59" width="7.8" height="7.8" fill="#444444"/>
<rect x="201.44" y="316.89" width="7.8" height="7.8" fill="#444444"/>
<rect x="241.4" y="318.2" width="7.8" height="7.8" fill="#444444"/>
<rect x="281.36" y="323.68" width="7.8" height="7.8" fill="#444444"/>
<circle cx="45.6" cy="312.7" r="4.3" fill="#f03232"/>
<circle cx="85.56" cy="324.97" r="4.3" fill="#f03232"/>
<circle cx="125.52" cy="338.28" r="4.3" fill="#f03232"/>
<circle cx="165.48" cy="367.25" r="4.3" fill="#f03232"/>
<circle cx="205.44" cy="398.31" r="4.3" fill="#f03232"/>
<circle cx="245.4" cy="442.16" r="4.3" fill="#f03232"/>
<circle cx="285.36" cy="458.34" r="4.3" fill="#f03232"/>
<path d="M40.3,315.53 L50.9,315.53 L45.6,307.03 Z" fill="#1d62e0"/>
<path d="M80.26,337.2 L90.86,337.2 L85.56,328.7 Z" fill="#1d62e0"/>
<path d="M120.22,360.95 L130.82,360.95 L125.52,352.45 Z" fill="#1d62e0"/>
<path d="M160.18,399.84 L170.78,399.84 L165.48,391.34 Z" fill="#1d62e0"/>
<path d="M200.14,421.5 L210.74,421.5 L205.44,413 Z" fill="#1d62e0"/>
<path d="M240.1,455.69 L250.7,455.69 L245.4,447.19 Z" fill="#1d62e0"/>
<path d="M280.06,467.44 L290.66,467.44 L285.36,458.94 Z" fill="#1d62e0"/>
<path d="M40.3,309.83 L51.1,309.83 L45.7,318.43 Z" fill="#640898"/>
<path d="M80.26,383.96 L91.06,383.96 L85.66,392.56 Z" fill="#640898"/>
<path d="M120.22,459.91 L131.02,459.91 L125.62,468.51 Z" fill="#640898"/>
<path d="M160.18,492.53 L170.98,492.53 L165.58,501.13 Z" fill="#640898"/>
<path d="M200.14,520.72 L210.94,520.72 L205.54,529.32 Z" fill="#640898"/>
<path d="M240.1,549.95 L250.9,549.95 L245.5,558.55 Z" fill="#640898"/>
<path d="M280.06,562.48 L290.86,562.48 L285.46,571.08 Z" fill="#640898"/>
</g>
<text transform="translate(36.9,315.7) scale(1.08,1)" x="0" y="0" text-anchor="end" style="font-family:'Liberation Sans',sans-serif;font-size:12.5px;font-weight:normal" fill="#404040" stroke="#404040" stroke-width="0.3">0</text>
<text transform="translate(36.9,367.9) scale(1.08,1)" x="0" y="0" text-anchor="end" style="font-family:'Liberation Sans',sans-serif;font-size:12.5px;font-weight:normal" fill="#404040" stroke="#404040" stroke-width="0.3">20</text>
<text transform="translate(36.9,420.1) scale(1.08,1)" x="0" y="0" text-anchor="end" style="font-family:'Liberation Sans',sans-serif;font-size:12.5px;font-weight:normal" fill="#404040" stroke="#404040" stroke-width="0.3">40</text>
<text transform="translate(36.9,472.3) scale(1.08,1)" x="0" y="0" text-anchor="end" style="font-family:'Liberation Sans',sans-serif;font-size:12.5px;font-weight:normal" fill="#404040" stroke="#404040" stroke-width="0.3">60</text>
<text transform="translate(36.9,524.5) scale(1.08,1)" x="0" y="0" text-anchor="end" style="font-family:'Liberation Sans',sans-serif;font-size:12.5px;font-weight:normal" fill="#404040" stroke="#404040" stroke-width="0.3">80</text>
<text transform="translate(36.9,576.7) scale(1.08,1)" x="0" y="0" text-anchor="end" style="font-family:'Liberation Sans',sans-serif;font-size:12.5px;font-weight:normal" fill="#404040" stroke="#404040" stroke-width="0.3">100</text>
<text transform="translate(45,591) scale(1.08,1)" x="0" y="0" text-anchor="middle" style="font-family:'Liberation Sans',sans-serif;font-size:12.5px;font-weight:normal" fill="#404040" stroke="#404040" stroke-width="0.3">0</text>
<text transform="translate(98.28,591) scale(1.08,1)" x="0" y="0" text-anchor="middle" style="font-family:'Liberation Sans',sans-serif;font-size:12.5px;font-weight:normal" fill="#404040" stroke="#404040" stroke-width="0.3">40</text>
<text transform="translate(151.56,591) scale(1.08,1)" x="0" y="0" text-anchor="middle" style="font-family:'Liberation Sans',sans-serif;font-size:12.5px;font-weight:normal" fill="#404040" stroke="#404040" stroke-width="0.3">80</text>
<text transform="translate(204.84,591) scale(1.08,1)" x="0" y="0" text-anchor="middle" style="font-family:'Liberation Sans',sans-serif;font-size:12.5px;font-weight:normal" fill="#404040" stroke="#404040" stroke-width="0.3">120</text>
<text transform="translate(258.12,591) scale(1.08,1)" x="0" y="0" text-anchor="middle" style="font-family:'Liberation Sans',sans-serif;font-size:12.5px;font-weight:normal" fill="#404040" stroke="#404040" stroke-width="0.3">160</text>
<text transform="translate(311.4,591) scale(1.08,1)" x="0" y="0" text-anchor="middle" style="font-family:'Liberation Sans',sans-serif;font-size:12.5px;font-weight:normal" fill="#404040" stroke="#404040" stroke-width="0.3">200</text>
<text x="179.4" y="607.3" text-anchor="middle" style="font-family:'Liberation Sans',sans-serif;font-size:14.5px;font-weight:bold" fill="#000" textLength="117" lengthAdjust="spacingAndGlyphs">Time (minutes)</text>
<text transform="translate(16,441.5) rotate(-90)" x="0" y="0" text-anchor="middle" style="font-family:'Liberation Sans',sans-serif;font-size:15px;font-weight:bold" fill="#000" textLength="212.5" lengthAdjust="spacingAndGlyphs">RhB removal percentage (%)</text>
<text x="49.3" y="561" text-anchor="start" style="font-family:'Liberation Sans',sans-serif;font-size:18.5px;font-weight:bold" fill="#000" textLength="23" lengthAdjust="spacingAndGlyphs">(c)</text>
<text x="237" y="344.1" text-anchor="start" style="font-family:'Liberation Sans',sans-serif;font-size:13px;font-weight:bold" fill="#000" textLength="49.5" lengthAdjust="spacingAndGlyphs">Control</text>
<text x="273.7" y="443.5" text-anchor="start" style="font-family:'Liberation Sans',sans-serif;font-size:13px;font-weight:bold" fill="#000" textLength="28" lengthAdjust="spacingAndGlyphs">ZnO</text>
<text x="190.8" y="479.1" text-anchor="start" style="font-family:'Liberation Sans',sans-serif;font-size:13px;font-weight:bold" fill="#000" textLength="111" lengthAdjust="spacingAndGlyphs">TCPP nanofibers</text>
<text x="151.8" y="563.4" text-anchor="start" style="font-family:'Liberation Sans',sans-serif;font-size:13px;font-weight:bold" fill="#000" textLength="80" lengthAdjust="spacingAndGlyphs">ZnO@TCPP</text>
<g clip-path="url(#clipd)">
<path d="M370.3,324.1 L409.9,324.72 L449.5,324.72 L489.1,325.33 L528.7,325.95 L568.3,325.95 L607.9,327.18" fill="none" stroke="#666" stroke-width="1.2" stroke-dasharray="1 1.6 1 1.6 1 12" opacity="1.0"/>
<path d="M370.3,324.1 L409.9,326.56 L449.5,330.25 L489.1,338.26 L528.7,348.72 L568.3,365.95 L607.9,374.57" fill="none" stroke="#ee5555" stroke-width="1.2" stroke-dasharray="1 1.8 1 1.8 1 10" opacity="1.0"/>
<path d="M370.3,324.1 L409.9,329.64 L449.5,337.03 L489.1,348.72 L528.7,356.11 L568.3,370.88 L607.9,377.65" fill="none" stroke="#5588ee" stroke-width="1.2" stroke-dasharray="1 1.8 1 1.8 1 8" opacity="1.0"/>
<path d="M370.3,324.1 L409.9,344.41 L449.5,376.42 L489.1,397.96 L528.7,426.27 L568.3,481.67 L607.9,542.6" fill="none" stroke="#70c090" stroke-width="1.3" stroke-dasharray="1.4 4.2" opacity="1.0"/>
</g>
<rect x="370.3" y="312.3" width="264" height="257.7" fill="none" stroke="#000" stroke-width="1.6"/>
<path d="M365.3,324.1H370.3M365.3,354.88H370.3M365.3,385.65H370.3M365.3,416.43H370.3M365.3,447.2H370.3M365.3,477.98H370.3M365.3,508.75H370.3M365.3,539.52H370.3M365.3,570.3H370.3M367.8,339.49H370.3M367.8,370.26H370.3M367.8,401.04H370.3M367.8,431.81H370.3M367.8,462.59H370.3M367.8,493.36H370.3M367.8,524.14H370.3M367.8,554.91H370.3" stroke="#000" stroke-width="1.5" fill="none"/>
<path d="M370.3,570V574M423.1,570V574M475.9,570V574M528.7,570V574M581.5,570V574M634.3,570V574M396.7,570V572.2M449.5,570V572.2M502.3,570V572.2M555.1,570V572.2M607.9,570V572.2" stroke="#000" stroke-width="1.5" fill="none"/>
<g clip-path="url(#clipd)">
<rect x="366.3" y="320.1" width="8" height="8" fill="#444444"/>
<rect x="405.9" y="320.72" width="8" height="8" fill="#444444"/>
<rect x="445.5" y="320.72" width="8" height="8" fill="#444444"/>
<rect x="485.1" y="321.33" width="8" height="8" fill="#444444"/>
<rect x="524.7" y="321.95" width="8" height="8" fill="#444444"/>
<rect x="564.3" y="321.95" width="8" height="8" fill="#444444"/>
<rect x="603.9" y="323.18" width="8" height="8" fill="#444444"/>
<ellipse cx="370.3" cy="324.1" rx="4.6" ry="4.1" fill="#fa0a0a"/>
<ellipse cx="409.9" cy="326.56" rx="4.6" ry="4.1" fill="#fa0a0a"/>
<ellipse cx="449.5" cy="330.25" rx="4.6" ry="4.1" fill="#fa0a0a"/>
<ellipse cx="489.1" cy="338.26" rx="4.6" ry="4.1" fill="#fa0a0a"/>
<ellipse cx="528.7" cy="348.72" rx="4.6" ry="4.1" fill="#fa0a0a"/>
<ellipse cx="568.3" cy="365.95" rx="4.6" ry="4.1" fill="#fa0a0a"/>
<ellipse cx="607.9" cy="374.57" rx="4.6" ry="4.1" fill="#fa0a0a"/>
<path d="M365.1,326.9 L375.5,326.9 L370.3,318.5 Z" fill="#1d62e0"/>
<path d="M404.7,332.44 L415.1,332.44 L409.9,324.04 Z" fill="#1d62e0"/>
<path d="M444.3,339.83 L454.7,339.83 L449.5,331.43 Z" fill="#1d62e0"/>
<path d="M483.9,351.52 L494.3,351.52 L489.1,343.12 Z" fill="#1d62e0"/>
<path d="M523.5,358.91 L533.9,358.91 L528.7,350.51 Z" fill="#1d62e0"/>
<path d="M563.1,373.68 L573.5,373.68 L568.3,365.28 Z" fill="#1d62e0"/>
<path d="M602.7,380.45 L613.1,380.45 L607.9,372.05 Z" fill="#1d62e0"/>
<path d="M365.1,321.3 L375.5,321.3 L370.3,329.7 Z" fill="#640898"/>
<path d="M404.7,341.61 L415.1,341.61 L409.9,350.01 Z" fill="#640898"/>
<path d="M444.3,373.62 L454.7,373.62 L449.5,382.02 Z" fill="#640898"/>
<path d="M483.9,395.16 L494.3,395.16 L489.1,403.56 Z" fill="#640898"/>
<path d="M523.5,423.47 L533.9,423.47 L528.7,431.87 Z" fill="#640898"/>
<path d="M563.1,478.87 L573.5,478.87 L568.3,487.27 Z" fill="#640898"/>
<path d="M602.7,539.8 L613.1,539.8 L607.9,548.2 Z" fill="#640898"/>
</g>
<text transform="translate(361.3,326.7) scale(1.06,1)" x="0" y="0" text-anchor="end" style="font-family:'Liberation Sans',sans-serif;font-size:13.8px;font-weight:normal" fill="#404040" stroke="#404040" stroke-width="0.3">0.0</text>
<text transform="translate(361.3,357.68) scale(1.02,1)" x="0" y="0" text-anchor="end" style="font-family:'Liberation Sans',sans-serif;font-size:13.8px;font-weight:normal" fill="#404040" stroke="#404040" stroke-width="0.3">-0.5</text>
<text transform="translate(361.3,388.65) scale(1.02,1)" x="0" y="0" text-anchor="end" style="font-family:'Liberation Sans',sans-serif;font-size:13.8px;font-weight:normal" fill="#404040" stroke="#404040" stroke-width="0.3">-1.0</text>
<text transform="translate(361.3,419.63) scale(1.02,1)" x="0" y="0" text-anchor="end" style="font-family:'Liberation Sans',sans-serif;font-size:13.8px;font-weight:normal" fill="#404040" stroke="#404040" stroke-width="0.3">-1.5</text>
<text transform="translate(361.3,450.6) scale(1.02,1)" x="0" y="0" text-anchor="end" style="font-family:'Liberation Sans',sans-serif;font-size:13.8px;font-weight:normal" fill="#404040" stroke="#404040" stroke-width="0.3">-2.0</text>
<text transform="translate(361.3,481.58) scale(1.02,1)" x="0" y="0" text-anchor="end" style="font-family:'Liberation Sans',sans-serif;font-size:13.8px;font-weight:normal" fill="#404040" stroke="#404040" stroke-width="0.3">-2.5</text>
<text transform="translate(361.3,512.55) scale(1.02,1)" x="0" y="0" text-anchor="end" style="font-family:'Liberation Sans',sans-serif;font-size:13.8px;font-weight:normal" fill="#404040" stroke="#404040" stroke-width="0.3">-3.0</text>
<text transform="translate(361.3,543.52) scale(1.02,1)" x="0" y="0" text-anchor="end" style="font-family:'Liberation Sans',sans-serif;font-size:13.8px;font-weight:normal" fill="#404040" stroke="#404040" stroke-width="0.3">-3.5</text>
<text transform="translate(361.3,574.5) scale(1.02,1)" x="0" y="0" text-anchor="end" style="font-family:'Liberation Sans',sans-serif;font-size:13.8px;font-weight:normal" fill="#404040" stroke="#404040" stroke-width="0.3">-4.0</text>
<text transform="translate(370.3,588.2) scale(1.08,1)" x="0" y="0" text-anchor="middle" style="font-family:'Liberation Sans',sans-serif;font-size:12.5px;font-weight:normal" fill="#404040" stroke="#404040" stroke-width="0.3">0</text>
<text transform="translate(423.1,588.2) scale(1.08,1)" x="0" y="0" text-anchor="middle" style="font-family:'Liberation Sans',sans-serif;font-size:12.5px;font-weight:normal" fill="#404040" stroke="#404040" stroke-width="0.3">40</text>
<text transform="translate(475.9,588.2) scale(1.08,1)" x="0" y="0" text-anchor="middle" style="font-family:'Liberation Sans',sans-serif;font-size:12.5px;font-weight:normal" fill="#404040" stroke="#404040" stroke-width="0.3">80</text>
<text transform="translate(528.7,588.2) scale(1.08,1)" x="0" y="0" text-anchor="middle" style="font-family:'Liberation Sans',sans-serif;font-size:12.5px;font-weight:normal" fill="#404040" stroke="#404040" stroke-width="0.3">120</text>
<text transform="translate(581.5,588.2) scale(1.08,1)" x="0" y="0" text-anchor="middle" style="font-family:'Liberation Sans',sans-serif;font-size:12.5px;font-weight:normal" fill="#404040" stroke="#404040" stroke-width="0.3">160</text>
<text transform="translate(634.3,588.2) scale(1.08,1)" x="0" y="0" text-anchor="middle" style="font-family:'Liberation Sans',sans-serif;font-size:12.5px;font-weight:normal" fill="#404040" stroke="#404040" stroke-width="0.3">200</text>
<text x="502.5" y="606" text-anchor="middle" style="font-family:'Liberation Sans',sans-serif;font-size:14.5px;font-weight:bold" fill="#000" textLength="118" lengthAdjust="spacingAndGlyphs">Time (minutes)</text>
<text transform="translate(326.5,440.2) rotate(-90)" text-anchor="middle" style="font-family:'Liberation Sans',sans-serif;font-size:16px;font-weight:bold" fill="#000" textLength="63" lengthAdjust="spacingAndGlyphs">Ln(C/C<tspan style="font-size:10px" dy="3">o</tspan><tspan dy="-3">)</tspan></text>
<text x="374.2" y="559.5" text-anchor="start" style="font-family:'Liberation Sans',sans-serif;font-size:18.5px;font-weight:bold" fill="#000" textLength="25" lengthAdjust="spacingAndGlyphs">(d)</text>
</svg></body></html>
